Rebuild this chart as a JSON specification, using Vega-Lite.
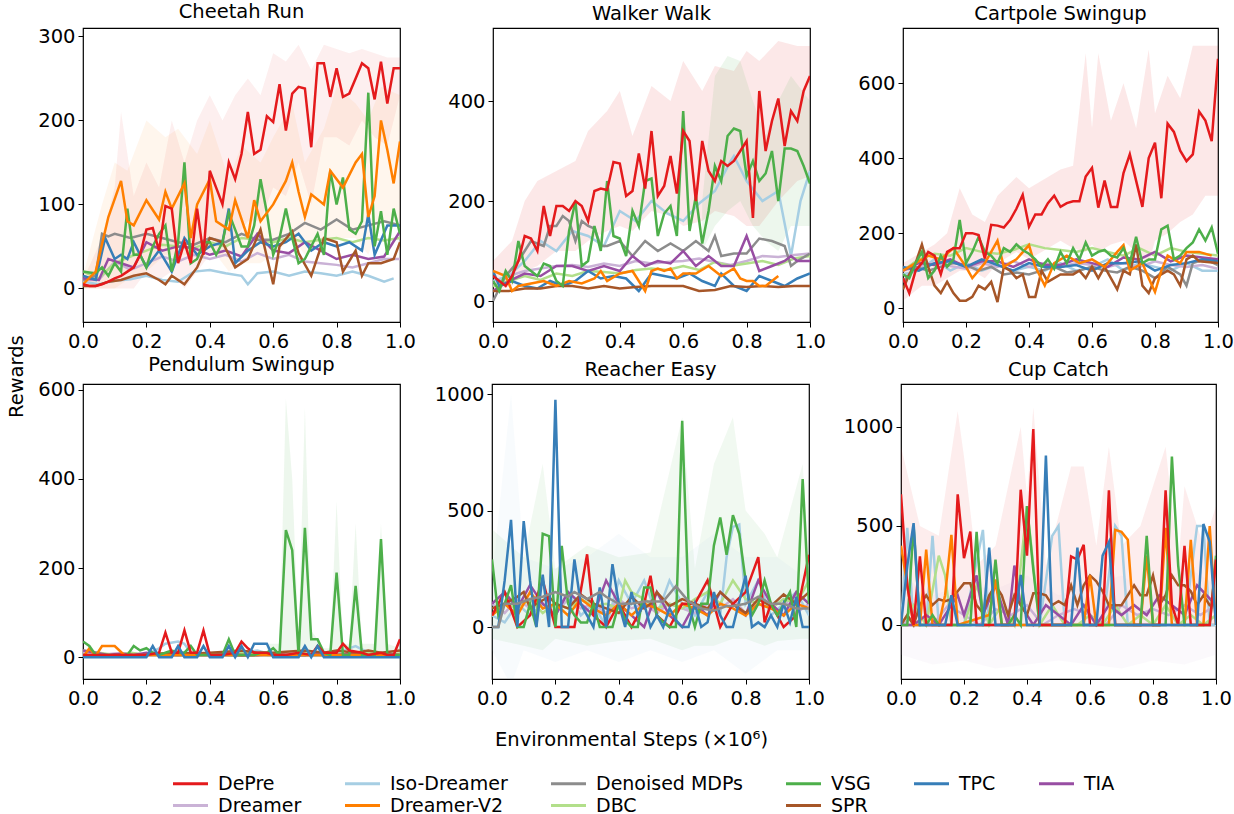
{
"$schema": "https://vega.github.io/schema/vega-lite/v6.json",
"background": "white",
"padding": {"left": 6, "top": 1, "right": 0, "bottom": 0},
"spacing": 2,
"title": {"text": "Rewards", "orient": "left", "anchor": "middle", "fontSize": 19.5, "fontWeight": "normal", "font": "DejaVu Sans", "color": "black", "offset": 10, "dx": 32},
"datasets": {
"CR": [
{"s":"Iso-Dreamer","x":0,"y":8},{"s":"Iso-Dreamer","x":0.05,"y":5},{"s":"Iso-Dreamer","x":0.1,"y":9},{"s":"Iso-Dreamer","x":0.15,"y":11},{"s":"Iso-Dreamer","x":0.2,"y":15},{"s":"Iso-Dreamer","x":0.25,"y":10},{"s":"Iso-Dreamer","x":0.3,"y":8},{"s":"Iso-Dreamer","x":0.35,"y":20},{"s":"Iso-Dreamer","x":0.4,"y":22},{"s":"Iso-Dreamer","x":0.45,"y":18},{"s":"Iso-Dreamer","x":0.5,"y":15},{"s":"Iso-Dreamer","x":0.52,"y":5},{"s":"Iso-Dreamer","x":0.55,"y":18},{"s":"Iso-Dreamer","x":0.6,"y":20},{"s":"Iso-Dreamer","x":0.65,"y":15},{"s":"Iso-Dreamer","x":0.7,"y":20},{"s":"Iso-Dreamer","x":0.75,"y":18},{"s":"Iso-Dreamer","x":0.8,"y":15},{"s":"Iso-Dreamer","x":0.85,"y":20},{"s":"Iso-Dreamer","x":0.9,"y":15},{"s":"Iso-Dreamer","x":0.95,"y":8},{"s":"Iso-Dreamer","x":0.98,"y":12},
{"s":"Dreamer","x":0,"y":10},{"s":"Dreamer","x":0.05,"y":10},{"s":"Dreamer","x":0.1,"y":32},{"s":"Dreamer","x":0.15,"y":22},{"s":"Dreamer","x":0.2,"y":30},{"s":"Dreamer","x":0.25,"y":38},{"s":"Dreamer","x":0.3,"y":32},{"s":"Dreamer","x":0.35,"y":40},{"s":"Dreamer","x":0.4,"y":35},{"s":"Dreamer","x":0.45,"y":40},{"s":"Dreamer","x":0.5,"y":32},{"s":"Dreamer","x":0.55,"y":42},{"s":"Dreamer","x":0.6,"y":35},{"s":"Dreamer","x":0.65,"y":40},{"s":"Dreamer","x":0.7,"y":32},{"s":"Dreamer","x":0.75,"y":30},{"s":"Dreamer","x":0.8,"y":28},{"s":"Dreamer","x":0.85,"y":25},{"s":"Dreamer","x":0.9,"y":30},{"s":"Dreamer","x":0.95,"y":35},{"s":"Dreamer","x":1,"y":35},
{"s":"DBC","x":0,"y":20},{"s":"DBC","x":0.05,"y":12},{"s":"DBC","x":0.1,"y":30},{"s":"DBC","x":0.15,"y":38},{"s":"DBC","x":0.2,"y":45},{"s":"DBC","x":0.25,"y":52},{"s":"DBC","x":0.3,"y":50},{"s":"DBC","x":0.35,"y":48},{"s":"DBC","x":0.4,"y":55},{"s":"DBC","x":0.45,"y":50},{"s":"DBC","x":0.5,"y":60},{"s":"DBC","x":0.55,"y":58},{"s":"DBC","x":0.6,"y":55},{"s":"DBC","x":0.65,"y":60},{"s":"DBC","x":0.7,"y":55},{"s":"DBC","x":0.75,"y":58},{"s":"DBC","x":0.8,"y":60},{"s":"DBC","x":0.85,"y":55},{"s":"DBC","x":0.9,"y":60},{"s":"DBC","x":0.95,"y":57},{"s":"DBC","x":1,"y":60},
{"s":"Denoised MDPs","x":0,"y":10},{"s":"Denoised MDPs","x":0.04,"y":15},{"s":"Denoised MDPs","x":0.06,"y":65},{"s":"Denoised MDPs","x":0.08,"y":62},{"s":"Denoised MDPs","x":0.1,"y":65},{"s":"Denoised MDPs","x":0.15,"y":60},{"s":"Denoised MDPs","x":0.2,"y":65},{"s":"Denoised MDPs","x":0.25,"y":60},{"s":"Denoised MDPs","x":0.3,"y":55},{"s":"Denoised MDPs","x":0.35,"y":52},{"s":"Denoised MDPs","x":0.4,"y":60},{"s":"Denoised MDPs","x":0.45,"y":55},{"s":"Denoised MDPs","x":0.5,"y":65},{"s":"Denoised MDPs","x":0.55,"y":58},{"s":"Denoised MDPs","x":0.6,"y":58},{"s":"Denoised MDPs","x":0.65,"y":65},{"s":"Denoised MDPs","x":0.7,"y":78},{"s":"Denoised MDPs","x":0.75,"y":70},{"s":"Denoised MDPs","x":0.8,"y":82},{"s":"Denoised MDPs","x":0.85,"y":70},{"s":"Denoised MDPs","x":0.9,"y":75},{"s":"Denoised MDPs","x":0.95,"y":80},{"s":"Denoised MDPs","x":1,"y":75},
{"s":"TIA","x":0,"y":12},{"s":"TIA","x":0.05,"y":10},{"s":"TIA","x":0.08,"y":35},{"s":"TIA","x":0.12,"y":30},{"s":"TIA","x":0.16,"y":25},{"s":"TIA","x":0.2,"y":55},{"s":"TIA","x":0.25,"y":45},{"s":"TIA","x":0.3,"y":50},{"s":"TIA","x":0.35,"y":48},{"s":"TIA","x":0.4,"y":40},{"s":"TIA","x":0.45,"y":45},{"s":"TIA","x":0.5,"y":38},{"s":"TIA","x":0.55,"y":65},{"s":"TIA","x":0.6,"y":45},{"s":"TIA","x":0.65,"y":42},{"s":"TIA","x":0.7,"y":55},{"s":"TIA","x":0.75,"y":45},{"s":"TIA","x":0.8,"y":35},{"s":"TIA","x":0.85,"y":40},{"s":"TIA","x":0.9,"y":35},{"s":"TIA","x":0.95,"y":38},{"s":"TIA","x":1,"y":68},
{"s":"TPC","x":0,"y":15},{"s":"TPC","x":0.04,"y":10},{"s":"TPC","x":0.07,"y":60},{"s":"TPC","x":0.1,"y":35},{"s":"TPC","x":0.12,"y":40},{"s":"TPC","x":0.14,"y":35},{"s":"TPC","x":0.16,"y":55},{"s":"TPC","x":0.2,"y":25},{"s":"TPC","x":0.24,"y":45},{"s":"TPC","x":0.28,"y":20},{"s":"TPC","x":0.32,"y":60},{"s":"TPC","x":0.36,"y":40},{"s":"TPC","x":0.4,"y":50},{"s":"TPC","x":0.44,"y":55},{"s":"TPC","x":0.46,"y":95},{"s":"TPC","x":0.48,"y":30},{"s":"TPC","x":0.52,"y":45},{"s":"TPC","x":0.56,"y":55},{"s":"TPC","x":0.6,"y":50},{"s":"TPC","x":0.64,"y":55},{"s":"TPC","x":0.68,"y":65},{"s":"TPC","x":0.72,"y":45},{"s":"TPC","x":0.76,"y":55},{"s":"TPC","x":0.8,"y":50},{"s":"TPC","x":0.84,"y":55},{"s":"TPC","x":0.88,"y":45},{"s":"TPC","x":0.9,"y":88},{"s":"TPC","x":0.92,"y":40},{"s":"TPC","x":0.96,"y":75},{"s":"TPC","x":1,"y":75},
{"s":"SPR","x":0,"y":3},{"s":"SPR","x":0.04,"y":3},{"s":"SPR","x":0.08,"y":8},{"s":"SPR","x":0.12,"y":10},{"s":"SPR","x":0.16,"y":15},{"s":"SPR","x":0.2,"y":18},{"s":"SPR","x":0.24,"y":10},{"s":"SPR","x":0.26,"y":5},{"s":"SPR","x":0.28,"y":15},{"s":"SPR","x":0.32,"y":5},{"s":"SPR","x":0.36,"y":25},{"s":"SPR","x":0.4,"y":60},{"s":"SPR","x":0.44,"y":55},{"s":"SPR","x":0.48,"y":25},{"s":"SPR","x":0.52,"y":35},{"s":"SPR","x":0.56,"y":70},{"s":"SPR","x":0.6,"y":5},{"s":"SPR","x":0.62,"y":50},{"s":"SPR","x":0.66,"y":68},{"s":"SPR","x":0.68,"y":42},{"s":"SPR","x":0.72,"y":15},{"s":"SPR","x":0.76,"y":60},{"s":"SPR","x":0.8,"y":55},{"s":"SPR","x":0.82,"y":20},{"s":"SPR","x":0.86,"y":45},{"s":"SPR","x":0.88,"y":15},{"s":"SPR","x":0.9,"y":30},{"s":"SPR","x":0.94,"y":30},{"s":"SPR","x":0.98,"y":35},{"s":"SPR","x":1,"y":55},
{"s":"VSG","x":0,"y":20},{"s":"VSG","x":0.02,"y":19},{"s":"VSG","x":0.04,"y":18},{"s":"VSG","x":0.06,"y":25},{"s":"VSG","x":0.08,"y":15},{"s":"VSG","x":0.1,"y":30},{"s":"VSG","x":0.12,"y":20},{"s":"VSG","x":0.14,"y":95},{"s":"VSG","x":0.16,"y":40},{"s":"VSG","x":0.18,"y":40},{"s":"VSG","x":0.2,"y":25},{"s":"VSG","x":0.22,"y":50},{"s":"VSG","x":0.24,"y":65},{"s":"VSG","x":0.26,"y":75},{"s":"VSG","x":0.28,"y":20},{"s":"VSG","x":0.3,"y":55},{"s":"VSG","x":0.32,"y":150},{"s":"VSG","x":0.34,"y":30},{"s":"VSG","x":0.36,"y":35},{"s":"VSG","x":0.38,"y":55},{"s":"VSG","x":0.4,"y":55},{"s":"VSG","x":0.42,"y":40},{"s":"VSG","x":0.44,"y":55},{"s":"VSG","x":0.46,"y":90},{"s":"VSG","x":0.48,"y":70},{"s":"VSG","x":0.5,"y":50},{"s":"VSG","x":0.52,"y":50},{"s":"VSG","x":0.54,"y":75},{"s":"VSG","x":0.56,"y":130},{"s":"VSG","x":0.58,"y":90},{"s":"VSG","x":0.6,"y":40},{"s":"VSG","x":0.62,"y":60},{"s":"VSG","x":0.64,"y":95},{"s":"VSG","x":0.66,"y":60},{"s":"VSG","x":0.68,"y":30},{"s":"VSG","x":0.7,"y":35},{"s":"VSG","x":0.72,"y":50},{"s":"VSG","x":0.74,"y":65},{"s":"VSG","x":0.76,"y":40},{"s":"VSG","x":0.78,"y":140},{"s":"VSG","x":0.8,"y":100},{"s":"VSG","x":0.82,"y":132},{"s":"VSG","x":0.84,"y":70},{"s":"VSG","x":0.86,"y":65},{"s":"VSG","x":0.88,"y":80},{"s":"VSG","x":0.9,"y":233},{"s":"VSG","x":0.92,"y":50},{"s":"VSG","x":0.94,"y":92},{"s":"VSG","x":0.96,"y":40},{"s":"VSG","x":0.98,"y":95},{"s":"VSG","x":1,"y":65},
{"s":"Dreamer-V2","x":0,"y":5},{"s":"Dreamer-V2","x":0.04,"y":20},{"s":"Dreamer-V2","x":0.08,"y":85},{"s":"Dreamer-V2","x":0.12,"y":128},{"s":"Dreamer-V2","x":0.14,"y":80},{"s":"Dreamer-V2","x":0.16,"y":75},{"s":"Dreamer-V2","x":0.2,"y":105},{"s":"Dreamer-V2","x":0.24,"y":82},{"s":"Dreamer-V2","x":0.26,"y":115},{"s":"Dreamer-V2","x":0.28,"y":95},{"s":"Dreamer-V2","x":0.32,"y":125},{"s":"Dreamer-V2","x":0.34,"y":60},{"s":"Dreamer-V2","x":0.36,"y":100},{"s":"Dreamer-V2","x":0.4,"y":130},{"s":"Dreamer-V2","x":0.42,"y":80},{"s":"Dreamer-V2","x":0.46,"y":70},{"s":"Dreamer-V2","x":0.48,"y":105},{"s":"Dreamer-V2","x":0.52,"y":60},{"s":"Dreamer-V2","x":0.54,"y":105},{"s":"Dreamer-V2","x":0.56,"y":80},{"s":"Dreamer-V2","x":0.6,"y":100},{"s":"Dreamer-V2","x":0.64,"y":128},{"s":"Dreamer-V2","x":0.66,"y":150},{"s":"Dreamer-V2","x":0.68,"y":115},{"s":"Dreamer-V2","x":0.7,"y":85},{"s":"Dreamer-V2","x":0.72,"y":112},{"s":"Dreamer-V2","x":0.76,"y":100},{"s":"Dreamer-V2","x":0.78,"y":140},{"s":"Dreamer-V2","x":0.82,"y":120},{"s":"Dreamer-V2","x":0.86,"y":150},{"s":"Dreamer-V2","x":0.88,"y":160},{"s":"Dreamer-V2","x":0.9,"y":85},{"s":"Dreamer-V2","x":0.92,"y":110},{"s":"Dreamer-V2","x":0.94,"y":200},{"s":"Dreamer-V2","x":0.96,"y":165},{"s":"Dreamer-V2","x":0.98,"y":125},{"s":"Dreamer-V2","x":1,"y":175},
{"s":"DePre","x":0,"y":5},{"s":"DePre","x":0.02,"y":3},{"s":"DePre","x":0.04,"y":3},{"s":"DePre","x":0.06,"y":5},{"s":"DePre","x":0.08,"y":8},{"s":"DePre","x":0.1,"y":12},{"s":"DePre","x":0.12,"y":15},{"s":"DePre","x":0.14,"y":20},{"s":"DePre","x":0.16,"y":25},{"s":"DePre","x":0.18,"y":40},{"s":"DePre","x":0.2,"y":70},{"s":"DePre","x":0.22,"y":72},{"s":"DePre","x":0.24,"y":45},{"s":"DePre","x":0.26,"y":98},{"s":"DePre","x":0.28,"y":95},{"s":"DePre","x":0.3,"y":30},{"s":"DePre","x":0.32,"y":55},{"s":"DePre","x":0.34,"y":30},{"s":"DePre","x":0.36,"y":95},{"s":"DePre","x":0.38,"y":40},{"s":"DePre","x":0.4,"y":140},{"s":"DePre","x":0.42,"y":120},{"s":"DePre","x":0.44,"y":100},{"s":"DePre","x":0.46,"y":150},{"s":"DePre","x":0.48,"y":130},{"s":"DePre","x":0.5,"y":160},{"s":"DePre","x":0.52,"y":210},{"s":"DePre","x":0.54,"y":160},{"s":"DePre","x":0.56,"y":165},{"s":"DePre","x":0.58,"y":205},{"s":"DePre","x":0.6,"y":198},{"s":"DePre","x":0.62,"y":243},{"s":"DePre","x":0.64,"y":188},{"s":"DePre","x":0.66,"y":232},{"s":"DePre","x":0.68,"y":240},{"s":"DePre","x":0.7,"y":238},{"s":"DePre","x":0.72,"y":168},{"s":"DePre","x":0.74,"y":268},{"s":"DePre","x":0.76,"y":268},{"s":"DePre","x":0.78,"y":228},{"s":"DePre","x":0.8,"y":262},{"s":"DePre","x":0.82,"y":228},{"s":"DePre","x":0.84,"y":232},{"s":"DePre","x":0.86,"y":250},{"s":"DePre","x":0.88,"y":268},{"s":"DePre","x":0.9,"y":262},{"s":"DePre","x":0.92,"y":225},{"s":"DePre","x":0.94,"y":270},{"s":"DePre","x":0.96,"y":220},{"s":"DePre","x":0.98,"y":262},{"s":"DePre","x":1,"y":262}
],
"CRb": [
{"s":"DePre","x":0,"l":0,"h":10},{"s":"DePre","x":0.06,"l":0,"h":60},{"s":"DePre","x":0.1,"l":0,"h":120},{"s":"DePre","x":0.12,"l":0,"h":210},{"s":"DePre","x":0.16,"l":0,"h":110},{"s":"DePre","x":0.2,"l":20,"h":150},{"s":"DePre","x":0.24,"l":10,"h":120},{"s":"DePre","x":0.28,"l":20,"h":200},{"s":"DePre","x":0.32,"l":0,"h":150},{"s":"DePre","x":0.36,"l":20,"h":200},{"s":"DePre","x":0.4,"l":40,"h":230},{"s":"DePre","x":0.44,"l":40,"h":200},{"s":"DePre","x":0.48,"l":60,"h":230},{"s":"DePre","x":0.52,"l":80,"h":250},{"s":"DePre","x":0.56,"l":80,"h":230},{"s":"DePre","x":0.6,"l":120,"h":280},{"s":"DePre","x":0.64,"l":110,"h":270},{"s":"DePre","x":0.68,"l":150,"h":290},{"s":"DePre","x":0.72,"l":100,"h":260},{"s":"DePre","x":0.76,"l":180,"h":290},{"s":"DePre","x":0.8,"l":180,"h":285},{"s":"DePre","x":0.84,"l":170,"h":280},{"s":"DePre","x":0.88,"l":200,"h":285},{"s":"DePre","x":0.92,"l":180,"h":280},{"s":"DePre","x":0.96,"l":170,"h":275},{"s":"DePre","x":1,"l":230,"h":275},
{"s":"Dreamer-V2","x":0,"l":0,"h":15},{"s":"Dreamer-V2","x":0.06,"l":0,"h":100},{"s":"Dreamer-V2","x":0.1,"l":0,"h":150},{"s":"Dreamer-V2","x":0.14,"l":10,"h":140},{"s":"Dreamer-V2","x":0.2,"l":20,"h":200},{"s":"Dreamer-V2","x":0.26,"l":40,"h":180},{"s":"Dreamer-V2","x":0.3,"l":40,"h":190},{"s":"Dreamer-V2","x":0.36,"l":40,"h":160},{"s":"Dreamer-V2","x":0.4,"l":50,"h":200},{"s":"Dreamer-V2","x":0.46,"l":20,"h":130},{"s":"Dreamer-V2","x":0.5,"l":30,"h":170},{"s":"Dreamer-V2","x":0.56,"l":30,"h":150},{"s":"Dreamer-V2","x":0.6,"l":40,"h":180},{"s":"Dreamer-V2","x":0.66,"l":60,"h":220},{"s":"Dreamer-V2","x":0.7,"l":40,"h":150},{"s":"Dreamer-V2","x":0.76,"l":50,"h":190},{"s":"Dreamer-V2","x":0.8,"l":60,"h":240},{"s":"Dreamer-V2","x":0.86,"l":60,"h":220},{"s":"Dreamer-V2","x":0.9,"l":40,"h":200},{"s":"Dreamer-V2","x":0.94,"l":80,"h":240},{"s":"Dreamer-V2","x":1,"l":80,"h":230}
],
"WW": [
{"s":"Iso-Dreamer","x":0,"y":40},{"s":"Iso-Dreamer","x":0.05,"y":50},{"s":"Iso-Dreamer","x":0.1,"y":80},{"s":"Iso-Dreamer","x":0.15,"y":120},{"s":"Iso-Dreamer","x":0.2,"y":100},{"s":"Iso-Dreamer","x":0.25,"y":140},{"s":"Iso-Dreamer","x":0.3,"y":130},{"s":"Iso-Dreamer","x":0.35,"y":110},{"s":"Iso-Dreamer","x":0.4,"y":180},{"s":"Iso-Dreamer","x":0.45,"y":160},{"s":"Iso-Dreamer","x":0.5,"y":200},{"s":"Iso-Dreamer","x":0.55,"y":175},{"s":"Iso-Dreamer","x":0.6,"y":160},{"s":"Iso-Dreamer","x":0.65,"y":195},{"s":"Iso-Dreamer","x":0.7,"y":220},{"s":"Iso-Dreamer","x":0.75,"y":280},{"s":"Iso-Dreamer","x":0.76,"y":290},{"s":"Iso-Dreamer","x":0.8,"y":240},{"s":"Iso-Dreamer","x":0.85,"y":200},{"s":"Iso-Dreamer","x":0.9,"y":220},{"s":"Iso-Dreamer","x":0.94,"y":90},{"s":"Iso-Dreamer","x":0.97,"y":200},{"s":"Iso-Dreamer","x":1,"y":260},
{"s":"Dreamer","x":0,"y":30},{"s":"Dreamer","x":0.05,"y":50},{"s":"Dreamer","x":0.1,"y":60},{"s":"Dreamer","x":0.15,"y":65},{"s":"Dreamer","x":0.2,"y":70},{"s":"Dreamer","x":0.25,"y":72},{"s":"Dreamer","x":0.3,"y":68},{"s":"Dreamer","x":0.35,"y":75},{"s":"Dreamer","x":0.4,"y":70},{"s":"Dreamer","x":0.45,"y":80},{"s":"Dreamer","x":0.5,"y":75},{"s":"Dreamer","x":0.55,"y":78},{"s":"Dreamer","x":0.6,"y":80},{"s":"Dreamer","x":0.65,"y":85},{"s":"Dreamer","x":0.7,"y":78},{"s":"Dreamer","x":0.75,"y":72},{"s":"Dreamer","x":0.8,"y":80},{"s":"Dreamer","x":0.85,"y":90},{"s":"Dreamer","x":0.9,"y":88},{"s":"Dreamer","x":0.95,"y":92},{"s":"Dreamer","x":1,"y":95},
{"s":"DBC","x":0,"y":30},{"s":"DBC","x":0.05,"y":40},{"s":"DBC","x":0.1,"y":50},{"s":"DBC","x":0.15,"y":42},{"s":"DBC","x":0.2,"y":55},{"s":"DBC","x":0.25,"y":50},{"s":"DBC","x":0.3,"y":60},{"s":"DBC","x":0.35,"y":58},{"s":"DBC","x":0.4,"y":55},{"s":"DBC","x":0.45,"y":62},{"s":"DBC","x":0.5,"y":65},{"s":"DBC","x":0.55,"y":62},{"s":"DBC","x":0.6,"y":70},{"s":"DBC","x":0.65,"y":62},{"s":"DBC","x":0.7,"y":78},{"s":"DBC","x":0.75,"y":70},{"s":"DBC","x":0.8,"y":75},{"s":"DBC","x":0.85,"y":80},{"s":"DBC","x":0.9,"y":72},{"s":"DBC","x":0.95,"y":85},{"s":"DBC","x":1,"y":90},
{"s":"Denoised MDPs","x":0,"y":0},{"s":"Denoised MDPs","x":0.04,"y":50},{"s":"Denoised MDPs","x":0.08,"y":80},{"s":"Denoised MDPs","x":0.1,"y":100},{"s":"Denoised MDPs","x":0.12,"y":120},{"s":"Denoised MDPs","x":0.16,"y":110},{"s":"Denoised MDPs","x":0.18,"y":150},{"s":"Denoised MDPs","x":0.2,"y":150},{"s":"Denoised MDPs","x":0.22,"y":170},{"s":"Denoised MDPs","x":0.24,"y":160},{"s":"Denoised MDPs","x":0.26,"y":120},{"s":"Denoised MDPs","x":0.28,"y":160},{"s":"Denoised MDPs","x":0.3,"y":150},{"s":"Denoised MDPs","x":0.32,"y":145},{"s":"Denoised MDPs","x":0.34,"y":110},{"s":"Denoised MDPs","x":0.36,"y":110},{"s":"Denoised MDPs","x":0.4,"y":120},{"s":"Denoised MDPs","x":0.44,"y":90},{"s":"Denoised MDPs","x":0.48,"y":120},{"s":"Denoised MDPs","x":0.52,"y":100},{"s":"Denoised MDPs","x":0.56,"y":115},{"s":"Denoised MDPs","x":0.6,"y":100},{"s":"Denoised MDPs","x":0.64,"y":120},{"s":"Denoised MDPs","x":0.68,"y":100},{"s":"Denoised MDPs","x":0.7,"y":130},{"s":"Denoised MDPs","x":0.72,"y":90},{"s":"Denoised MDPs","x":0.76,"y":95},{"s":"Denoised MDPs","x":0.8,"y":95},{"s":"Denoised MDPs","x":0.84,"y":125},{"s":"Denoised MDPs","x":0.88,"y":120},{"s":"Denoised MDPs","x":0.92,"y":110},{"s":"Denoised MDPs","x":0.94,"y":70},{"s":"Denoised MDPs","x":0.96,"y":80},{"s":"Denoised MDPs","x":1,"y":95},
{"s":"TIA","x":0,"y":20},{"s":"TIA","x":0.05,"y":40},{"s":"TIA","x":0.1,"y":55},{"s":"TIA","x":0.15,"y":50},{"s":"TIA","x":0.2,"y":70},{"s":"TIA","x":0.25,"y":70},{"s":"TIA","x":0.3,"y":60},{"s":"TIA","x":0.35,"y":70},{"s":"TIA","x":0.4,"y":60},{"s":"TIA","x":0.44,"y":90},{"s":"TIA","x":0.48,"y":70},{"s":"TIA","x":0.52,"y":80},{"s":"TIA","x":0.56,"y":75},{"s":"TIA","x":0.6,"y":100},{"s":"TIA","x":0.64,"y":70},{"s":"TIA","x":0.68,"y":90},{"s":"TIA","x":0.72,"y":70},{"s":"TIA","x":0.76,"y":70},{"s":"TIA","x":0.8,"y":130},{"s":"TIA","x":0.84,"y":60},{"s":"TIA","x":0.88,"y":70},{"s":"TIA","x":0.92,"y":80},{"s":"TIA","x":0.94,"y":90},{"s":"TIA","x":0.96,"y":80},{"s":"TIA","x":1,"y":80},
{"s":"TPC","x":0,"y":60},{"s":"TPC","x":0.02,"y":30},{"s":"TPC","x":0.06,"y":40},{"s":"TPC","x":0.1,"y":30},{"s":"TPC","x":0.14,"y":25},{"s":"TPC","x":0.18,"y":40},{"s":"TPC","x":0.22,"y":30},{"s":"TPC","x":0.26,"y":40},{"s":"TPC","x":0.3,"y":60},{"s":"TPC","x":0.34,"y":45},{"s":"TPC","x":0.38,"y":50},{"s":"TPC","x":0.42,"y":45},{"s":"TPC","x":0.46,"y":20},{"s":"TPC","x":0.5,"y":55},{"s":"TPC","x":0.54,"y":50},{"s":"TPC","x":0.58,"y":45},{"s":"TPC","x":0.62,"y":55},{"s":"TPC","x":0.66,"y":40},{"s":"TPC","x":0.7,"y":30},{"s":"TPC","x":0.72,"y":55},{"s":"TPC","x":0.76,"y":30},{"s":"TPC","x":0.8,"y":20},{"s":"TPC","x":0.84,"y":50},{"s":"TPC","x":0.88,"y":40},{"s":"TPC","x":0.92,"y":30},{"s":"TPC","x":0.96,"y":45},{"s":"TPC","x":1,"y":55},
{"s":"SPR","x":0,"y":20},{"s":"SPR","x":0.05,"y":20},{"s":"SPR","x":0.1,"y":25},{"s":"SPR","x":0.15,"y":25},{"s":"SPR","x":0.2,"y":30},{"s":"SPR","x":0.25,"y":30},{"s":"SPR","x":0.3,"y":25},{"s":"SPR","x":0.35,"y":30},{"s":"SPR","x":0.4,"y":25},{"s":"SPR","x":0.45,"y":28},{"s":"SPR","x":0.5,"y":30},{"s":"SPR","x":0.55,"y":30},{"s":"SPR","x":0.6,"y":30},{"s":"SPR","x":0.65,"y":20},{"s":"SPR","x":0.7,"y":22},{"s":"SPR","x":0.75,"y":30},{"s":"SPR","x":0.8,"y":28},{"s":"SPR","x":0.85,"y":30},{"s":"SPR","x":0.9,"y":28},{"s":"SPR","x":0.95,"y":30},{"s":"SPR","x":1,"y":30},
{"s":"Dreamer-V2","x":0,"y":60},{"s":"Dreamer-V2","x":0.04,"y":50},{"s":"Dreamer-V2","x":0.06,"y":20},{"s":"Dreamer-V2","x":0.08,"y":30},{"s":"Dreamer-V2","x":0.12,"y":35},{"s":"Dreamer-V2","x":0.16,"y":40},{"s":"Dreamer-V2","x":0.2,"y":30},{"s":"Dreamer-V2","x":0.24,"y":40},{"s":"Dreamer-V2","x":0.28,"y":35},{"s":"Dreamer-V2","x":0.32,"y":45},{"s":"Dreamer-V2","x":0.34,"y":60},{"s":"Dreamer-V2","x":0.36,"y":40},{"s":"Dreamer-V2","x":0.4,"y":55},{"s":"Dreamer-V2","x":0.44,"y":60},{"s":"Dreamer-V2","x":0.46,"y":40},{"s":"Dreamer-V2","x":0.48,"y":20},{"s":"Dreamer-V2","x":0.5,"y":60},{"s":"Dreamer-V2","x":0.52,"y":65},{"s":"Dreamer-V2","x":0.54,"y":60},{"s":"Dreamer-V2","x":0.56,"y":65},{"s":"Dreamer-V2","x":0.58,"y":45},{"s":"Dreamer-V2","x":0.6,"y":55},{"s":"Dreamer-V2","x":0.64,"y":55},{"s":"Dreamer-V2","x":0.68,"y":70},{"s":"Dreamer-V2","x":0.7,"y":60},{"s":"Dreamer-V2","x":0.72,"y":50},{"s":"Dreamer-V2","x":0.76,"y":65},{"s":"Dreamer-V2","x":0.78,"y":45},{"s":"Dreamer-V2","x":0.8,"y":40},{"s":"Dreamer-V2","x":0.82,"y":40},{"s":"Dreamer-V2","x":0.84,"y":30},{"s":"Dreamer-V2","x":0.86,"y":30},{"s":"Dreamer-V2","x":0.9,"y":50},
{"s":"VSG","x":0,"y":40},{"s":"VSG","x":0.02,"y":20},{"s":"VSG","x":0.04,"y":60},{"s":"VSG","x":0.06,"y":40},{"s":"VSG","x":0.08,"y":120},{"s":"VSG","x":0.1,"y":70},{"s":"VSG","x":0.12,"y":60},{"s":"VSG","x":0.14,"y":50},{"s":"VSG","x":0.16,"y":75},{"s":"VSG","x":0.18,"y":70},{"s":"VSG","x":0.2,"y":40},{"s":"VSG","x":0.22,"y":30},{"s":"VSG","x":0.24,"y":140},{"s":"VSG","x":0.26,"y":200},{"s":"VSG","x":0.28,"y":70},{"s":"VSG","x":0.3,"y":80},{"s":"VSG","x":0.32,"y":150},{"s":"VSG","x":0.34,"y":100},{"s":"VSG","x":0.36,"y":240},{"s":"VSG","x":0.38,"y":130},{"s":"VSG","x":0.4,"y":125},{"s":"VSG","x":0.42,"y":90},{"s":"VSG","x":0.44,"y":180},{"s":"VSG","x":0.46,"y":150},{"s":"VSG","x":0.48,"y":240},{"s":"VSG","x":0.5,"y":245},{"s":"VSG","x":0.52,"y":130},{"s":"VSG","x":0.54,"y":175},{"s":"VSG","x":0.56,"y":190},{"s":"VSG","x":0.58,"y":130},{"s":"VSG","x":0.6,"y":380},{"s":"VSG","x":0.62,"y":140},{"s":"VSG","x":0.64,"y":210},{"s":"VSG","x":0.66,"y":115},{"s":"VSG","x":0.68,"y":180},{"s":"VSG","x":0.7,"y":270},{"s":"VSG","x":0.72,"y":240},{"s":"VSG","x":0.74,"y":330},{"s":"VSG","x":0.76,"y":345},{"s":"VSG","x":0.78,"y":340},{"s":"VSG","x":0.8,"y":250},{"s":"VSG","x":0.82,"y":280},{"s":"VSG","x":0.84,"y":240},{"s":"VSG","x":0.86,"y":255},{"s":"VSG","x":0.88,"y":300},{"s":"VSG","x":0.9,"y":200},{"s":"VSG","x":0.92,"y":305},{"s":"VSG","x":0.94,"y":305},{"s":"VSG","x":0.96,"y":300},{"s":"VSG","x":0.98,"y":270},{"s":"VSG","x":1,"y":235},
{"s":"DePre","x":0,"y":50},{"s":"DePre","x":0.02,"y":40},{"s":"DePre","x":0.04,"y":30},{"s":"DePre","x":0.06,"y":50},{"s":"DePre","x":0.08,"y":80},{"s":"DePre","x":0.1,"y":130},{"s":"DePre","x":0.12,"y":125},{"s":"DePre","x":0.14,"y":100},{"s":"DePre","x":0.16,"y":190},{"s":"DePre","x":0.18,"y":130},{"s":"DePre","x":0.2,"y":190},{"s":"DePre","x":0.22,"y":190},{"s":"DePre","x":0.24,"y":180},{"s":"DePre","x":0.26,"y":200},{"s":"DePre","x":0.28,"y":190},{"s":"DePre","x":0.3,"y":160},{"s":"DePre","x":0.32,"y":220},{"s":"DePre","x":0.34,"y":225},{"s":"DePre","x":0.36,"y":222},{"s":"DePre","x":0.38,"y":278},{"s":"DePre","x":0.4,"y":275},{"s":"DePre","x":0.42,"y":210},{"s":"DePre","x":0.44,"y":220},{"s":"DePre","x":0.46,"y":295},{"s":"DePre","x":0.48,"y":225},{"s":"DePre","x":0.5,"y":340},{"s":"DePre","x":0.52,"y":210},{"s":"DePre","x":0.54,"y":230},{"s":"DePre","x":0.56,"y":290},{"s":"DePre","x":0.58,"y":215},{"s":"DePre","x":0.6,"y":340},{"s":"DePre","x":0.62,"y":320},{"s":"DePre","x":0.64,"y":200},{"s":"DePre","x":0.66,"y":320},{"s":"DePre","x":0.68,"y":260},{"s":"DePre","x":0.7,"y":240},{"s":"DePre","x":0.72,"y":280},{"s":"DePre","x":0.74,"y":270},{"s":"DePre","x":0.76,"y":280},{"s":"DePre","x":0.78,"y":300},{"s":"DePre","x":0.8,"y":320},{"s":"DePre","x":0.82,"y":166},{"s":"DePre","x":0.84,"y":420},{"s":"DePre","x":0.86,"y":300},{"s":"DePre","x":0.88,"y":360},{"s":"DePre","x":0.9,"y":405},{"s":"DePre","x":0.92,"y":310},{"s":"DePre","x":0.94,"y":380},{"s":"DePre","x":0.96,"y":360},{"s":"DePre","x":0.98,"y":420},{"s":"DePre","x":1,"y":450}
],
"WWb": [
{"s":"DePre","x":0,"l":20,"h":80},{"s":"DePre","x":0.06,"l":30,"h":120},{"s":"DePre","x":0.1,"l":60,"h":200},{"s":"DePre","x":0.14,"l":70,"h":240},{"s":"DePre","x":0.2,"l":100,"h":260},{"s":"DePre","x":0.26,"l":100,"h":280},{"s":"DePre","x":0.3,"l":120,"h":340},{"s":"DePre","x":0.36,"l":140,"h":380},{"s":"DePre","x":0.4,"l":150,"h":420},{"s":"DePre","x":0.44,"l":140,"h":330},{"s":"DePre","x":0.5,"l":180,"h":430},{"s":"DePre","x":0.56,"l":170,"h":400},{"s":"DePre","x":0.6,"l":150,"h":480},{"s":"DePre","x":0.66,"l":160,"h":420},{"s":"DePre","x":0.7,"l":180,"h":470},{"s":"DePre","x":0.76,"l":170,"h":460},{"s":"DePre","x":0.8,"l":150,"h":500},{"s":"DePre","x":0.84,"l":150,"h":480},{"s":"DePre","x":0.9,"l":200,"h":520},{"s":"DePre","x":0.96,"l":240,"h":510},{"s":"DePre","x":1,"l":250,"h":510},
{"s":"VSG","x":0.66,"l":100,"h":200},{"s":"VSG","x":0.7,"l":150,"h":450},{"s":"VSG","x":0.74,"l":180,"h":490},{"s":"VSG","x":0.78,"l":200,"h":480},{"s":"VSG","x":0.82,"l":150,"h":400},{"s":"VSG","x":0.86,"l":120,"h":330},{"s":"VSG","x":0.9,"l":100,"h":400},{"s":"VSG","x":0.94,"l":150,"h":450},{"s":"VSG","x":1,"l":150,"h":400}
],
"CS": [
{"s":"Iso-Dreamer","x":0,"y":90},{"s":"Iso-Dreamer","x":0.05,"y":100},{"s":"Iso-Dreamer","x":0.1,"y":130},{"s":"Iso-Dreamer","x":0.15,"y":100},{"s":"Iso-Dreamer","x":0.2,"y":120},{"s":"Iso-Dreamer","x":0.25,"y":100},{"s":"Iso-Dreamer","x":0.3,"y":115},{"s":"Iso-Dreamer","x":0.35,"y":100},{"s":"Iso-Dreamer","x":0.4,"y":110},{"s":"Iso-Dreamer","x":0.45,"y":100},{"s":"Iso-Dreamer","x":0.5,"y":120},{"s":"Iso-Dreamer","x":0.55,"y":100},{"s":"Iso-Dreamer","x":0.6,"y":110},{"s":"Iso-Dreamer","x":0.65,"y":130},{"s":"Iso-Dreamer","x":0.7,"y":100},{"s":"Iso-Dreamer","x":0.75,"y":120},{"s":"Iso-Dreamer","x":0.8,"y":110},{"s":"Iso-Dreamer","x":0.85,"y":100},{"s":"Iso-Dreamer","x":0.9,"y":120},{"s":"Iso-Dreamer","x":0.95,"y":100},{"s":"Iso-Dreamer","x":1,"y":100},
{"s":"Dreamer","x":0,"y":100},{"s":"Dreamer","x":0.05,"y":110},{"s":"Dreamer","x":0.1,"y":120},{"s":"Dreamer","x":0.15,"y":112},{"s":"Dreamer","x":0.2,"y":105},{"s":"Dreamer","x":0.25,"y":120},{"s":"Dreamer","x":0.3,"y":110},{"s":"Dreamer","x":0.35,"y":125},{"s":"Dreamer","x":0.4,"y":110},{"s":"Dreamer","x":0.45,"y":120},{"s":"Dreamer","x":0.5,"y":110},{"s":"Dreamer","x":0.55,"y":120},{"s":"Dreamer","x":0.6,"y":115},{"s":"Dreamer","x":0.65,"y":110},{"s":"Dreamer","x":0.7,"y":120},{"s":"Dreamer","x":0.75,"y":110},{"s":"Dreamer","x":0.8,"y":125},{"s":"Dreamer","x":0.85,"y":115},{"s":"Dreamer","x":0.9,"y":110},{"s":"Dreamer","x":0.95,"y":115},{"s":"Dreamer","x":1,"y":105},
{"s":"DBC","x":0,"y":100},{"s":"DBC","x":0.05,"y":130},{"s":"DBC","x":0.1,"y":145},{"s":"DBC","x":0.15,"y":140},{"s":"DBC","x":0.2,"y":160},{"s":"DBC","x":0.25,"y":150},{"s":"DBC","x":0.3,"y":145},{"s":"DBC","x":0.35,"y":155},{"s":"DBC","x":0.4,"y":170},{"s":"DBC","x":0.45,"y":160},{"s":"DBC","x":0.5,"y":155},{"s":"DBC","x":0.55,"y":150},{"s":"DBC","x":0.6,"y":160},{"s":"DBC","x":0.65,"y":150},{"s":"DBC","x":0.7,"y":140},{"s":"DBC","x":0.75,"y":160},{"s":"DBC","x":0.8,"y":140},{"s":"DBC","x":0.85,"y":160},{"s":"DBC","x":0.9,"y":150},{"s":"DBC","x":0.95,"y":145},{"s":"DBC","x":1,"y":140},
{"s":"Denoised MDPs","x":0,"y":70},{"s":"Denoised MDPs","x":0.04,"y":110},{"s":"Denoised MDPs","x":0.08,"y":100},{"s":"Denoised MDPs","x":0.12,"y":110},{"s":"Denoised MDPs","x":0.16,"y":120},{"s":"Denoised MDPs","x":0.2,"y":115},{"s":"Denoised MDPs","x":0.24,"y":100},{"s":"Denoised MDPs","x":0.28,"y":110},{"s":"Denoised MDPs","x":0.32,"y":90},{"s":"Denoised MDPs","x":0.36,"y":95},{"s":"Denoised MDPs","x":0.4,"y":90},{"s":"Denoised MDPs","x":0.44,"y":100},{"s":"Denoised MDPs","x":0.48,"y":110},{"s":"Denoised MDPs","x":0.52,"y":95},{"s":"Denoised MDPs","x":0.56,"y":100},{"s":"Denoised MDPs","x":0.6,"y":110},{"s":"Denoised MDPs","x":0.64,"y":100},{"s":"Denoised MDPs","x":0.68,"y":95},{"s":"Denoised MDPs","x":0.72,"y":110},{"s":"Denoised MDPs","x":0.76,"y":100},{"s":"Denoised MDPs","x":0.8,"y":80},{"s":"Denoised MDPs","x":0.84,"y":110},{"s":"Denoised MDPs","x":0.88,"y":90},{"s":"Denoised MDPs","x":0.9,"y":60},{"s":"Denoised MDPs","x":0.92,"y":120},{"s":"Denoised MDPs","x":0.96,"y":130},{"s":"Denoised MDPs","x":1,"y":115},
{"s":"TIA","x":0,"y":100},{"s":"TIA","x":0.05,"y":120},{"s":"TIA","x":0.1,"y":115},{"s":"TIA","x":0.15,"y":130},{"s":"TIA","x":0.2,"y":110},{"s":"TIA","x":0.25,"y":125},{"s":"TIA","x":0.3,"y":125},{"s":"TIA","x":0.35,"y":110},{"s":"TIA","x":0.4,"y":130},{"s":"TIA","x":0.45,"y":115},{"s":"TIA","x":0.5,"y":115},{"s":"TIA","x":0.55,"y":130},{"s":"TIA","x":0.6,"y":120},{"s":"TIA","x":0.65,"y":110},{"s":"TIA","x":0.7,"y":135},{"s":"TIA","x":0.75,"y":130},{"s":"TIA","x":0.8,"y":150},{"s":"TIA","x":0.85,"y":125},{"s":"TIA","x":0.9,"y":140},{"s":"TIA","x":0.95,"y":135},{"s":"TIA","x":1,"y":130},
{"s":"TPC","x":0,"y":110},{"s":"TPC","x":0.05,"y":100},{"s":"TPC","x":0.1,"y":120},{"s":"TPC","x":0.15,"y":125},{"s":"TPC","x":0.2,"y":110},{"s":"TPC","x":0.25,"y":130},{"s":"TPC","x":0.3,"y":115},{"s":"TPC","x":0.35,"y":100},{"s":"TPC","x":0.4,"y":120},{"s":"TPC","x":0.45,"y":110},{"s":"TPC","x":0.5,"y":110},{"s":"TPC","x":0.55,"y":115},{"s":"TPC","x":0.6,"y":100},{"s":"TPC","x":0.65,"y":120},{"s":"TPC","x":0.7,"y":120},{"s":"TPC","x":0.75,"y":125},{"s":"TPC","x":0.8,"y":100},{"s":"TPC","x":0.85,"y":115},{"s":"TPC","x":0.9,"y":120},{"s":"TPC","x":0.95,"y":130},{"s":"TPC","x":1,"y":125},
{"s":"SPR","x":0,"y":50},{"s":"SPR","x":0.02,"y":90},{"s":"SPR","x":0.04,"y":120},{"s":"SPR","x":0.06,"y":170},{"s":"SPR","x":0.08,"y":110},{"s":"SPR","x":0.1,"y":60},{"s":"SPR","x":0.12,"y":40},{"s":"SPR","x":0.14,"y":70},{"s":"SPR","x":0.16,"y":40},{"s":"SPR","x":0.18,"y":20},{"s":"SPR","x":0.2,"y":20},{"s":"SPR","x":0.22,"y":30},{"s":"SPR","x":0.24,"y":60},{"s":"SPR","x":0.26,"y":50},{"s":"SPR","x":0.28,"y":70},{"s":"SPR","x":0.3,"y":16},{"s":"SPR","x":0.32,"y":110},{"s":"SPR","x":0.34,"y":100},{"s":"SPR","x":0.36,"y":80},{"s":"SPR","x":0.38,"y":90},{"s":"SPR","x":0.4,"y":30},{"s":"SPR","x":0.42,"y":30},{"s":"SPR","x":0.44,"y":100},{"s":"SPR","x":0.46,"y":70},{"s":"SPR","x":0.48,"y":80},{"s":"SPR","x":0.5,"y":90},{"s":"SPR","x":0.54,"y":90},{"s":"SPR","x":0.56,"y":100},{"s":"SPR","x":0.58,"y":80},{"s":"SPR","x":0.6,"y":110},{"s":"SPR","x":0.62,"y":80},{"s":"SPR","x":0.64,"y":110},{"s":"SPR","x":0.66,"y":80},{"s":"SPR","x":0.68,"y":50},{"s":"SPR","x":0.7,"y":100},{"s":"SPR","x":0.72,"y":90},{"s":"SPR","x":0.74,"y":170},{"s":"SPR","x":0.76,"y":60},{"s":"SPR","x":0.78,"y":40},{"s":"SPR","x":0.8,"y":80},{"s":"SPR","x":0.84,"y":100},{"s":"SPR","x":0.86,"y":90},{"s":"SPR","x":0.88,"y":60},{"s":"SPR","x":0.9,"y":130},{"s":"SPR","x":0.92,"y":140},{"s":"SPR","x":0.94,"y":125},{"s":"SPR","x":1,"y":120},
{"s":"Dreamer-V2","x":0,"y":100},{"s":"Dreamer-V2","x":0.04,"y":120},{"s":"Dreamer-V2","x":0.08,"y":140},{"s":"Dreamer-V2","x":0.12,"y":130},{"s":"Dreamer-V2","x":0.16,"y":160},{"s":"Dreamer-V2","x":0.2,"y":110},{"s":"Dreamer-V2","x":0.22,"y":80},{"s":"Dreamer-V2","x":0.26,"y":120},{"s":"Dreamer-V2","x":0.3,"y":180},{"s":"Dreamer-V2","x":0.32,"y":110},{"s":"Dreamer-V2","x":0.36,"y":130},{"s":"Dreamer-V2","x":0.4,"y":168},{"s":"Dreamer-V2","x":0.42,"y":110},{"s":"Dreamer-V2","x":0.45,"y":60},{"s":"Dreamer-V2","x":0.48,"y":120},{"s":"Dreamer-V2","x":0.52,"y":140},{"s":"Dreamer-V2","x":0.56,"y":120},{"s":"Dreamer-V2","x":0.6,"y":130},{"s":"Dreamer-V2","x":0.64,"y":110},{"s":"Dreamer-V2","x":0.68,"y":150},{"s":"Dreamer-V2","x":0.7,"y":168},{"s":"Dreamer-V2","x":0.72,"y":100},{"s":"Dreamer-V2","x":0.76,"y":120},{"s":"Dreamer-V2","x":0.78,"y":80},{"s":"Dreamer-V2","x":0.8,"y":43},{"s":"Dreamer-V2","x":0.82,"y":100},{"s":"Dreamer-V2","x":0.84,"y":140},{"s":"Dreamer-V2","x":0.88,"y":120},{"s":"Dreamer-V2","x":0.9,"y":150},{"s":"Dreamer-V2","x":0.94,"y":150},{"s":"Dreamer-V2","x":0.98,"y":140},
{"s":"VSG","x":0,"y":90},{"s":"VSG","x":0.02,"y":80},{"s":"VSG","x":0.04,"y":120},{"s":"VSG","x":0.06,"y":150},{"s":"VSG","x":0.08,"y":80},{"s":"VSG","x":0.1,"y":100},{"s":"VSG","x":0.12,"y":140},{"s":"VSG","x":0.14,"y":110},{"s":"VSG","x":0.16,"y":130},{"s":"VSG","x":0.18,"y":235},{"s":"VSG","x":0.2,"y":120},{"s":"VSG","x":0.22,"y":150},{"s":"VSG","x":0.24,"y":190},{"s":"VSG","x":0.26,"y":150},{"s":"VSG","x":0.28,"y":140},{"s":"VSG","x":0.3,"y":120},{"s":"VSG","x":0.32,"y":160},{"s":"VSG","x":0.34,"y":150},{"s":"VSG","x":0.36,"y":170},{"s":"VSG","x":0.38,"y":155},{"s":"VSG","x":0.4,"y":145},{"s":"VSG","x":0.42,"y":130},{"s":"VSG","x":0.44,"y":110},{"s":"VSG","x":0.46,"y":130},{"s":"VSG","x":0.48,"y":105},{"s":"VSG","x":0.5,"y":150},{"s":"VSG","x":0.52,"y":120},{"s":"VSG","x":0.54,"y":160},{"s":"VSG","x":0.56,"y":130},{"s":"VSG","x":0.58,"y":175},{"s":"VSG","x":0.6,"y":140},{"s":"VSG","x":0.62,"y":150},{"s":"VSG","x":0.64,"y":155},{"s":"VSG","x":0.66,"y":140},{"s":"VSG","x":0.68,"y":135},{"s":"VSG","x":0.7,"y":160},{"s":"VSG","x":0.72,"y":120},{"s":"VSG","x":0.74,"y":190},{"s":"VSG","x":0.76,"y":120},{"s":"VSG","x":0.78,"y":130},{"s":"VSG","x":0.8,"y":130},{"s":"VSG","x":0.82,"y":210},{"s":"VSG","x":0.84,"y":220},{"s":"VSG","x":0.86,"y":130},{"s":"VSG","x":0.88,"y":140},{"s":"VSG","x":0.9,"y":160},{"s":"VSG","x":0.92,"y":175},{"s":"VSG","x":0.94,"y":210},{"s":"VSG","x":0.96,"y":180},{"s":"VSG","x":0.98,"y":215},{"s":"VSG","x":1,"y":145},
{"s":"DePre","x":0,"y":80},{"s":"DePre","x":0.02,"y":40},{"s":"DePre","x":0.04,"y":100},{"s":"DePre","x":0.06,"y":120},{"s":"DePre","x":0.08,"y":150},{"s":"DePre","x":0.1,"y":140},{"s":"DePre","x":0.12,"y":90},{"s":"DePre","x":0.14,"y":150},{"s":"DePre","x":0.16,"y":160},{"s":"DePre","x":0.18,"y":160},{"s":"DePre","x":0.2,"y":200},{"s":"DePre","x":0.22,"y":200},{"s":"DePre","x":0.24,"y":195},{"s":"DePre","x":0.26,"y":132},{"s":"DePre","x":0.28,"y":222},{"s":"DePre","x":0.3,"y":220},{"s":"DePre","x":0.32,"y":215},{"s":"DePre","x":0.34,"y":235},{"s":"DePre","x":0.36,"y":265},{"s":"DePre","x":0.38,"y":302},{"s":"DePre","x":0.4,"y":217},{"s":"DePre","x":0.42,"y":250},{"s":"DePre","x":0.44,"y":250},{"s":"DePre","x":0.46,"y":280},{"s":"DePre","x":0.48,"y":300},{"s":"DePre","x":0.5,"y":270},{"s":"DePre","x":0.52,"y":280},{"s":"DePre","x":0.54,"y":285},{"s":"DePre","x":0.56,"y":285},{"s":"DePre","x":0.58,"y":351},{"s":"DePre","x":0.6,"y":374},{"s":"DePre","x":0.62,"y":268},{"s":"DePre","x":0.64,"y":340},{"s":"DePre","x":0.66,"y":270},{"s":"DePre","x":0.68,"y":270},{"s":"DePre","x":0.7,"y":360},{"s":"DePre","x":0.72,"y":410},{"s":"DePre","x":0.74,"y":340},{"s":"DePre","x":0.76,"y":270},{"s":"DePre","x":0.78,"y":400},{"s":"DePre","x":0.8,"y":441},{"s":"DePre","x":0.82,"y":293},{"s":"DePre","x":0.84,"y":492},{"s":"DePre","x":0.86,"y":470},{"s":"DePre","x":0.88,"y":420},{"s":"DePre","x":0.9,"y":392},{"s":"DePre","x":0.92,"y":410},{"s":"DePre","x":0.94,"y":524},{"s":"DePre","x":0.96,"y":500},{"s":"DePre","x":0.98,"y":445},{"s":"DePre","x":1,"y":665}
],
"CSb": [
{"s":"DePre","x":0,"l":20,"h":120},{"s":"DePre","x":0.06,"l":60,"h":150},{"s":"DePre","x":0.1,"l":60,"h":170},{"s":"DePre","x":0.14,"l":80,"h":200},{"s":"DePre","x":0.18,"l":100,"h":320},{"s":"DePre","x":0.22,"l":100,"h":250},{"s":"DePre","x":0.26,"l":80,"h":230},{"s":"DePre","x":0.3,"l":120,"h":300},{"s":"DePre","x":0.36,"l":150,"h":350},{"s":"DePre","x":0.4,"l":130,"h":320},{"s":"DePre","x":0.44,"l":150,"h":340},{"s":"DePre","x":0.5,"l":180,"h":370},{"s":"DePre","x":0.54,"l":160,"h":380},{"s":"DePre","x":0.58,"l":150,"h":680},{"s":"DePre","x":0.6,"l":170,"h":480},{"s":"DePre","x":0.62,"l":150,"h":680},{"s":"DePre","x":0.66,"l":170,"h":500},{"s":"DePre","x":0.7,"l":180,"h":600},{"s":"DePre","x":0.74,"l":150,"h":480},{"s":"DePre","x":0.78,"l":120,"h":690},{"s":"DePre","x":0.8,"l":180,"h":520},{"s":"DePre","x":0.84,"l":200,"h":620},{"s":"DePre","x":0.88,"l":230,"h":560},{"s":"DePre","x":0.92,"l":250,"h":700},{"s":"DePre","x":0.96,"l":300,"h":700},{"s":"DePre","x":1,"l":300,"h":700}
],
"PS": [
{"s":"Iso-Dreamer","x":0,"y":5},{"s":"Iso-Dreamer","x":0.05,"y":8},{"s":"Iso-Dreamer","x":0.1,"y":5},{"s":"Iso-Dreamer","x":0.15,"y":10},{"s":"Iso-Dreamer","x":0.2,"y":5},{"s":"Iso-Dreamer","x":0.24,"y":20},{"s":"Iso-Dreamer","x":0.26,"y":30},{"s":"Iso-Dreamer","x":0.3,"y":35},{"s":"Iso-Dreamer","x":0.32,"y":30},{"s":"Iso-Dreamer","x":0.34,"y":10},{"s":"Iso-Dreamer","x":0.4,"y":5},{"s":"Iso-Dreamer","x":0.45,"y":10},{"s":"Iso-Dreamer","x":0.5,"y":10},{"s":"Iso-Dreamer","x":0.55,"y":15},{"s":"Iso-Dreamer","x":0.6,"y":5},{"s":"Iso-Dreamer","x":0.65,"y":5},{"s":"Iso-Dreamer","x":0.7,"y":5},{"s":"Iso-Dreamer","x":0.75,"y":10},{"s":"Iso-Dreamer","x":0.8,"y":10},{"s":"Iso-Dreamer","x":0.86,"y":25},{"s":"Iso-Dreamer","x":0.9,"y":10},{"s":"Iso-Dreamer","x":0.95,"y":10},{"s":"Iso-Dreamer","x":1,"y":5},
{"s":"Dreamer","x":0,"y":10},{"s":"Dreamer","x":0.05,"y":5},{"s":"Dreamer","x":0.1,"y":8},{"s":"Dreamer","x":0.15,"y":5},{"s":"Dreamer","x":0.2,"y":5},{"s":"Dreamer","x":0.25,"y":8},{"s":"Dreamer","x":0.3,"y":5},{"s":"Dreamer","x":0.35,"y":10},{"s":"Dreamer","x":0.4,"y":5},{"s":"Dreamer","x":0.45,"y":8},{"s":"Dreamer","x":0.5,"y":5},{"s":"Dreamer","x":0.55,"y":10},{"s":"Dreamer","x":0.6,"y":5},{"s":"Dreamer","x":0.65,"y":8},{"s":"Dreamer","x":0.7,"y":5},{"s":"Dreamer","x":0.75,"y":10},{"s":"Dreamer","x":0.8,"y":5},{"s":"Dreamer","x":0.85,"y":8},{"s":"Dreamer","x":0.9,"y":5},{"s":"Dreamer","x":0.95,"y":8},{"s":"Dreamer","x":1,"y":5},
{"s":"DBC","x":0,"y":15},{"s":"DBC","x":0.05,"y":10},{"s":"DBC","x":0.1,"y":5},{"s":"DBC","x":0.15,"y":10},{"s":"DBC","x":0.2,"y":5},{"s":"DBC","x":0.25,"y":8},{"s":"DBC","x":0.3,"y":10},{"s":"DBC","x":0.35,"y":5},{"s":"DBC","x":0.4,"y":8},{"s":"DBC","x":0.45,"y":5},{"s":"DBC","x":0.5,"y":10},{"s":"DBC","x":0.55,"y":5},{"s":"DBC","x":0.6,"y":8},{"s":"DBC","x":0.65,"y":5},{"s":"DBC","x":0.7,"y":10},{"s":"DBC","x":0.75,"y":5},{"s":"DBC","x":0.8,"y":8},{"s":"DBC","x":0.85,"y":5},{"s":"DBC","x":0.9,"y":10},{"s":"DBC","x":0.95,"y":5},{"s":"DBC","x":1,"y":8},
{"s":"Denoised MDPs","x":0,"y":5},{"s":"Denoised MDPs","x":0.1,"y":3},{"s":"Denoised MDPs","x":0.2,"y":5},{"s":"Denoised MDPs","x":0.3,"y":4},{"s":"Denoised MDPs","x":0.4,"y":5},{"s":"Denoised MDPs","x":0.5,"y":3},{"s":"Denoised MDPs","x":0.6,"y":5},{"s":"Denoised MDPs","x":0.7,"y":4},{"s":"Denoised MDPs","x":0.8,"y":5},{"s":"Denoised MDPs","x":0.9,"y":3},{"s":"Denoised MDPs","x":1,"y":5},
{"s":"TIA","x":0,"y":15},{"s":"TIA","x":0.04,"y":10},{"s":"TIA","x":0.08,"y":5},{"s":"TIA","x":0.12,"y":8},{"s":"TIA","x":0.16,"y":5},{"s":"TIA","x":0.2,"y":10},{"s":"TIA","x":0.25,"y":5},{"s":"TIA","x":0.3,"y":8},{"s":"TIA","x":0.35,"y":5},{"s":"TIA","x":0.4,"y":5},{"s":"TIA","x":0.45,"y":8},{"s":"TIA","x":0.5,"y":5},{"s":"TIA","x":0.55,"y":5},{"s":"TIA","x":0.6,"y":8},{"s":"TIA","x":0.65,"y":5},{"s":"TIA","x":0.7,"y":5},{"s":"TIA","x":0.75,"y":10},{"s":"TIA","x":0.8,"y":5},{"s":"TIA","x":0.85,"y":8},{"s":"TIA","x":0.9,"y":5},{"s":"TIA","x":0.95,"y":8},{"s":"TIA","x":1,"y":5},
{"s":"SPR","x":0,"y":5},{"s":"SPR","x":0.05,"y":3},{"s":"SPR","x":0.1,"y":5},{"s":"SPR","x":0.15,"y":5},{"s":"SPR","x":0.2,"y":5},{"s":"SPR","x":0.25,"y":8},{"s":"SPR","x":0.3,"y":10},{"s":"SPR","x":0.35,"y":8},{"s":"SPR","x":0.4,"y":10},{"s":"SPR","x":0.45,"y":12},{"s":"SPR","x":0.5,"y":15},{"s":"SPR","x":0.55,"y":10},{"s":"SPR","x":0.6,"y":10},{"s":"SPR","x":0.64,"y":12},{"s":"SPR","x":0.7,"y":15},{"s":"SPR","x":0.76,"y":10},{"s":"SPR","x":0.8,"y":15},{"s":"SPR","x":0.86,"y":10},{"s":"SPR","x":0.9,"y":15},{"s":"SPR","x":0.94,"y":10},{"s":"SPR","x":1,"y":15},
{"s":"Dreamer-V2","x":0,"y":0},{"s":"Dreamer-V2","x":0.02,"y":20},{"s":"Dreamer-V2","x":0.04,"y":3},{"s":"Dreamer-V2","x":0.06,"y":25},{"s":"Dreamer-V2","x":0.1,"y":25},{"s":"Dreamer-V2","x":0.13,"y":5},{"s":"Dreamer-V2","x":0.16,"y":3},{"s":"Dreamer-V2","x":0.2,"y":5},{"s":"Dreamer-V2","x":0.3,"y":5},{"s":"Dreamer-V2","x":0.4,"y":5},{"s":"Dreamer-V2","x":0.5,"y":5},{"s":"Dreamer-V2","x":0.6,"y":5},{"s":"Dreamer-V2","x":0.7,"y":5},{"s":"Dreamer-V2","x":0.8,"y":5},{"s":"Dreamer-V2","x":0.9,"y":5},{"s":"Dreamer-V2","x":1,"y":5},
{"s":"VSG","x":0,"y":35},{"s":"VSG","x":0.02,"y":25},{"s":"VSG","x":0.04,"y":5},{"s":"VSG","x":0.06,"y":5},{"s":"VSG","x":0.08,"y":5},{"s":"VSG","x":0.1,"y":3},{"s":"VSG","x":0.12,"y":3},{"s":"VSG","x":0.14,"y":5},{"s":"VSG","x":0.16,"y":25},{"s":"VSG","x":0.18,"y":15},{"s":"VSG","x":0.2,"y":20},{"s":"VSG","x":0.22,"y":10},{"s":"VSG","x":0.24,"y":5},{"s":"VSG","x":0.26,"y":10},{"s":"VSG","x":0.28,"y":15},{"s":"VSG","x":0.3,"y":10},{"s":"VSG","x":0.32,"y":10},{"s":"VSG","x":0.34,"y":25},{"s":"VSG","x":0.36,"y":5},{"s":"VSG","x":0.38,"y":5},{"s":"VSG","x":0.4,"y":5},{"s":"VSG","x":0.42,"y":5},{"s":"VSG","x":0.44,"y":5},{"s":"VSG","x":0.46,"y":40},{"s":"VSG","x":0.48,"y":5},{"s":"VSG","x":0.5,"y":5},{"s":"VSG","x":0.52,"y":5},{"s":"VSG","x":0.54,"y":5},{"s":"VSG","x":0.56,"y":10},{"s":"VSG","x":0.58,"y":10},{"s":"VSG","x":0.6,"y":20},{"s":"VSG","x":0.62,"y":5},{"s":"VSG","x":0.64,"y":285},{"s":"VSG","x":0.66,"y":240},{"s":"VSG","x":0.68,"y":5},{"s":"VSG","x":0.7,"y":290},{"s":"VSG","x":0.72,"y":40},{"s":"VSG","x":0.74,"y":40},{"s":"VSG","x":0.76,"y":10},{"s":"VSG","x":0.78,"y":5},{"s":"VSG","x":0.8,"y":190},{"s":"VSG","x":0.82,"y":5},{"s":"VSG","x":0.84,"y":5},{"s":"VSG","x":0.86,"y":160},{"s":"VSG","x":0.88,"y":5},{"s":"VSG","x":0.9,"y":5},{"s":"VSG","x":0.92,"y":5},{"s":"VSG","x":0.94,"y":265},{"s":"VSG","x":0.96,"y":5},{"s":"VSG","x":0.98,"y":5},{"s":"VSG","x":1,"y":5},
{"s":"DePre","x":0,"y":5},{"s":"DePre","x":0.04,"y":5},{"s":"DePre","x":0.08,"y":5},{"s":"DePre","x":0.12,"y":5},{"s":"DePre","x":0.16,"y":5},{"s":"DePre","x":0.2,"y":5},{"s":"DePre","x":0.24,"y":10},{"s":"DePre","x":0.26,"y":55},{"s":"DePre","x":0.28,"y":10},{"s":"DePre","x":0.3,"y":10},{"s":"DePre","x":0.32,"y":60},{"s":"DePre","x":0.34,"y":10},{"s":"DePre","x":0.36,"y":10},{"s":"DePre","x":0.38,"y":60},{"s":"DePre","x":0.4,"y":5},{"s":"DePre","x":0.44,"y":5},{"s":"DePre","x":0.48,"y":10},{"s":"DePre","x":0.5,"y":35},{"s":"DePre","x":0.52,"y":20},{"s":"DePre","x":0.54,"y":10},{"s":"DePre","x":0.58,"y":10},{"s":"DePre","x":0.6,"y":5},{"s":"DePre","x":0.64,"y":5},{"s":"DePre","x":0.68,"y":10},{"s":"DePre","x":0.72,"y":5},{"s":"DePre","x":0.74,"y":25},{"s":"DePre","x":0.76,"y":10},{"s":"DePre","x":0.8,"y":10},{"s":"DePre","x":0.82,"y":30},{"s":"DePre","x":0.84,"y":15},{"s":"DePre","x":0.88,"y":10},{"s":"DePre","x":0.9,"y":5},{"s":"DePre","x":0.94,"y":10},{"s":"DePre","x":0.96,"y":5},{"s":"DePre","x":0.98,"y":5},{"s":"DePre","x":1,"y":40},
{"s":"TPC","x":0,"y":0},{"s":"TPC","x":0.04,"y":0},{"s":"TPC","x":0.08,"y":0},{"s":"TPC","x":0.12,"y":0},{"s":"TPC","x":0.16,"y":0},{"s":"TPC","x":0.2,"y":0},{"s":"TPC","x":0.22,"y":25},{"s":"TPC","x":0.24,"y":0},{"s":"TPC","x":0.28,"y":0},{"s":"TPC","x":0.3,"y":25},{"s":"TPC","x":0.32,"y":0},{"s":"TPC","x":0.36,"y":0},{"s":"TPC","x":0.38,"y":25},{"s":"TPC","x":0.4,"y":0},{"s":"TPC","x":0.44,"y":0},{"s":"TPC","x":0.46,"y":25},{"s":"TPC","x":0.48,"y":0},{"s":"TPC","x":0.5,"y":25},{"s":"TPC","x":0.52,"y":0},{"s":"TPC","x":0.54,"y":30},{"s":"TPC","x":0.56,"y":30},{"s":"TPC","x":0.58,"y":30},{"s":"TPC","x":0.6,"y":0},{"s":"TPC","x":0.64,"y":0},{"s":"TPC","x":0.68,"y":0},{"s":"TPC","x":0.7,"y":25},{"s":"TPC","x":0.72,"y":0},{"s":"TPC","x":0.74,"y":25},{"s":"TPC","x":0.76,"y":0},{"s":"TPC","x":0.8,"y":0},{"s":"TPC","x":0.9,"y":0},{"s":"TPC","x":1,"y":0}
],
"PSb": [
{"s":"VSG","x":0.58,"l":0,"h":30},{"s":"VSG","x":0.62,"l":0,"h":30},{"s":"VSG","x":0.64,"l":0,"h":580},{"s":"VSG","x":0.66,"l":0,"h":400},{"s":"VSG","x":0.68,"l":0,"h":40},{"s":"VSG","x":0.7,"l":0,"h":560},{"s":"VSG","x":0.72,"l":0,"h":60},{"s":"VSG","x":0.76,"l":0,"h":20},{"s":"VSG","x":0.78,"l":0,"h":20},{"s":"VSG","x":0.8,"l":0,"h":350},{"s":"VSG","x":0.82,"l":0,"h":30},{"s":"VSG","x":0.84,"l":0,"h":30},{"s":"VSG","x":0.86,"l":0,"h":300},{"s":"VSG","x":0.88,"l":0,"h":30},{"s":"VSG","x":0.92,"l":0,"h":30},{"s":"VSG","x":0.94,"l":0,"h":300},{"s":"VSG","x":0.96,"l":0,"h":30},{"s":"VSG","x":1,"l":0,"h":20}
],
"RE": [
{"s":"Iso-Dreamer","x":0,"y":50},{"s":"Iso-Dreamer","x":0.04,"y":20},{"s":"Iso-Dreamer","x":0.08,"y":100},{"s":"Iso-Dreamer","x":0.12,"y":50},{"s":"Iso-Dreamer","x":0.16,"y":100},{"s":"Iso-Dreamer","x":0.2,"y":50},{"s":"Iso-Dreamer","x":0.24,"y":150},{"s":"Iso-Dreamer","x":0.28,"y":50},{"s":"Iso-Dreamer","x":0.32,"y":100},{"s":"Iso-Dreamer","x":0.36,"y":0},{"s":"Iso-Dreamer","x":0.4,"y":200},{"s":"Iso-Dreamer","x":0.44,"y":100},{"s":"Iso-Dreamer","x":0.48,"y":200},{"s":"Iso-Dreamer","x":0.52,"y":50},{"s":"Iso-Dreamer","x":0.56,"y":200},{"s":"Iso-Dreamer","x":0.6,"y":100},{"s":"Iso-Dreamer","x":0.64,"y":50},{"s":"Iso-Dreamer","x":0.68,"y":150},{"s":"Iso-Dreamer","x":0.72,"y":50},{"s":"Iso-Dreamer","x":0.74,"y":300},{"s":"Iso-Dreamer","x":0.76,"y":430},{"s":"Iso-Dreamer","x":0.78,"y":440},{"s":"Iso-Dreamer","x":0.8,"y":100},{"s":"Iso-Dreamer","x":0.84,"y":200},{"s":"Iso-Dreamer","x":0.88,"y":50},{"s":"Iso-Dreamer","x":0.92,"y":100},{"s":"Iso-Dreamer","x":0.96,"y":150},{"s":"Iso-Dreamer","x":1,"y":50},
{"s":"Dreamer","x":0,"y":100},{"s":"Dreamer","x":0.04,"y":60},{"s":"Dreamer","x":0.08,"y":120},{"s":"Dreamer","x":0.12,"y":80},{"s":"Dreamer","x":0.16,"y":100},{"s":"Dreamer","x":0.2,"y":60},{"s":"Dreamer","x":0.24,"y":120},{"s":"Dreamer","x":0.28,"y":80},{"s":"Dreamer","x":0.32,"y":100},{"s":"Dreamer","x":0.36,"y":60},{"s":"Dreamer","x":0.4,"y":120},{"s":"Dreamer","x":0.44,"y":80},{"s":"Dreamer","x":0.48,"y":100},{"s":"Dreamer","x":0.52,"y":60},{"s":"Dreamer","x":0.56,"y":100},{"s":"Dreamer","x":0.6,"y":80},{"s":"Dreamer","x":0.64,"y":60},{"s":"Dreamer","x":0.68,"y":100},{"s":"Dreamer","x":0.72,"y":80},{"s":"Dreamer","x":0.76,"y":120},{"s":"Dreamer","x":0.8,"y":60},{"s":"Dreamer","x":0.84,"y":100},{"s":"Dreamer","x":0.88,"y":80},{"s":"Dreamer","x":0.92,"y":120},{"s":"Dreamer","x":0.96,"y":60},{"s":"Dreamer","x":1,"y":100},
{"s":"DBC","x":0,"y":50},{"s":"DBC","x":0.04,"y":100},{"s":"DBC","x":0.08,"y":80},{"s":"DBC","x":0.12,"y":120},{"s":"DBC","x":0.16,"y":60},{"s":"DBC","x":0.2,"y":100},{"s":"DBC","x":0.24,"y":80},{"s":"DBC","x":0.28,"y":120},{"s":"DBC","x":0.32,"y":90},{"s":"DBC","x":0.36,"y":100},{"s":"DBC","x":0.4,"y":80},{"s":"DBC","x":0.42,"y":200},{"s":"DBC","x":0.44,"y":150},{"s":"DBC","x":0.48,"y":120},{"s":"DBC","x":0.52,"y":80},{"s":"DBC","x":0.56,"y":100},{"s":"DBC","x":0.6,"y":80},{"s":"DBC","x":0.64,"y":120},{"s":"DBC","x":0.68,"y":150},{"s":"DBC","x":0.72,"y":100},{"s":"DBC","x":0.76,"y":200},{"s":"DBC","x":0.8,"y":120},{"s":"DBC","x":0.84,"y":100},{"s":"DBC","x":0.88,"y":80},{"s":"DBC","x":0.92,"y":120},{"s":"DBC","x":0.96,"y":100},{"s":"DBC","x":1,"y":200},
{"s":"TIA","x":0,"y":100},{"s":"TIA","x":0.04,"y":150},{"s":"TIA","x":0.08,"y":80},{"s":"TIA","x":0.12,"y":180},{"s":"TIA","x":0.16,"y":100},{"s":"TIA","x":0.2,"y":50},{"s":"TIA","x":0.24,"y":150},{"s":"TIA","x":0.28,"y":100},{"s":"TIA","x":0.32,"y":50},{"s":"TIA","x":0.36,"y":200},{"s":"TIA","x":0.4,"y":100},{"s":"TIA","x":0.44,"y":50},{"s":"TIA","x":0.48,"y":0},{"s":"TIA","x":0.52,"y":150},{"s":"TIA","x":0.56,"y":50},{"s":"TIA","x":0.6,"y":0},{"s":"TIA","x":0.64,"y":100},{"s":"TIA","x":0.68,"y":50},{"s":"TIA","x":0.72,"y":150},{"s":"TIA","x":0.76,"y":100},{"s":"TIA","x":0.8,"y":50},{"s":"TIA","x":0.84,"y":200},{"s":"TIA","x":0.88,"y":100},{"s":"TIA","x":0.92,"y":50},{"s":"TIA","x":0.96,"y":150},{"s":"TIA","x":1,"y":100},
{"s":"Dreamer-V2","x":0,"y":50},{"s":"Dreamer-V2","x":0.04,"y":100},{"s":"Dreamer-V2","x":0.08,"y":50},{"s":"Dreamer-V2","x":0.12,"y":150},{"s":"Dreamer-V2","x":0.16,"y":80},{"s":"Dreamer-V2","x":0.2,"y":100},{"s":"Dreamer-V2","x":0.24,"y":50},{"s":"Dreamer-V2","x":0.28,"y":120},{"s":"Dreamer-V2","x":0.32,"y":80},{"s":"Dreamer-V2","x":0.36,"y":50},{"s":"Dreamer-V2","x":0.4,"y":100},{"s":"Dreamer-V2","x":0.44,"y":50},{"s":"Dreamer-V2","x":0.48,"y":100},{"s":"Dreamer-V2","x":0.52,"y":80},{"s":"Dreamer-V2","x":0.56,"y":50},{"s":"Dreamer-V2","x":0.6,"y":100},{"s":"Dreamer-V2","x":0.64,"y":80},{"s":"Dreamer-V2","x":0.68,"y":50},{"s":"Dreamer-V2","x":0.72,"y":100},{"s":"Dreamer-V2","x":0.76,"y":80},{"s":"Dreamer-V2","x":0.8,"y":50},{"s":"Dreamer-V2","x":0.84,"y":100},{"s":"Dreamer-V2","x":0.88,"y":80},{"s":"Dreamer-V2","x":0.92,"y":50},{"s":"Dreamer-V2","x":0.96,"y":100},{"s":"Dreamer-V2","x":1,"y":80},
{"s":"SPR","x":0,"y":80},{"s":"SPR","x":0.04,"y":100},{"s":"SPR","x":0.08,"y":130},{"s":"SPR","x":0.1,"y":150},{"s":"SPR","x":0.12,"y":80},{"s":"SPR","x":0.14,"y":100},{"s":"SPR","x":0.18,"y":130},{"s":"SPR","x":0.2,"y":100},{"s":"SPR","x":0.24,"y":80},{"s":"SPR","x":0.28,"y":140},{"s":"SPR","x":0.32,"y":100},{"s":"SPR","x":0.36,"y":80},{"s":"SPR","x":0.4,"y":60},{"s":"SPR","x":0.44,"y":130},{"s":"SPR","x":0.48,"y":80},{"s":"SPR","x":0.5,"y":100},{"s":"SPR","x":0.52,"y":150},{"s":"SPR","x":0.56,"y":90},{"s":"SPR","x":0.6,"y":120},{"s":"SPR","x":0.64,"y":100},{"s":"SPR","x":0.68,"y":80},{"s":"SPR","x":0.72,"y":150},{"s":"SPR","x":0.76,"y":100},{"s":"SPR","x":0.8,"y":60},{"s":"SPR","x":0.84,"y":120},{"s":"SPR","x":0.88,"y":90},{"s":"SPR","x":0.92,"y":140},{"s":"SPR","x":0.96,"y":100},{"s":"SPR","x":1,"y":150},
{"s":"DePre","x":0,"y":50},{"s":"DePre","x":0.04,"y":150},{"s":"DePre","x":0.08,"y":0},{"s":"DePre","x":0.12,"y":50},{"s":"DePre","x":0.16,"y":200},{"s":"DePre","x":0.2,"y":0},{"s":"DePre","x":0.24,"y":0},{"s":"DePre","x":0.26,"y":0},{"s":"DePre","x":0.3,"y":312},{"s":"DePre","x":0.32,"y":50},{"s":"DePre","x":0.36,"y":0},{"s":"DePre","x":0.4,"y":100},{"s":"DePre","x":0.44,"y":0},{"s":"DePre","x":0.48,"y":100},{"s":"DePre","x":0.5,"y":220},{"s":"DePre","x":0.52,"y":50},{"s":"DePre","x":0.56,"y":0},{"s":"DePre","x":0.6,"y":100},{"s":"DePre","x":0.64,"y":100},{"s":"DePre","x":0.68,"y":200},{"s":"DePre","x":0.72,"y":0},{"s":"DePre","x":0.76,"y":100},{"s":"DePre","x":0.8,"y":150},{"s":"DePre","x":0.84,"y":300},{"s":"DePre","x":0.86,"y":20},{"s":"DePre","x":0.88,"y":100},{"s":"DePre","x":0.92,"y":0},{"s":"DePre","x":0.96,"y":50},{"s":"DePre","x":1,"y":310},
{"s":"VSG","x":0,"y":290},{"s":"VSG","x":0.02,"y":50},{"s":"VSG","x":0.04,"y":100},{"s":"VSG","x":0.06,"y":180},{"s":"VSG","x":0.08,"y":0},{"s":"VSG","x":0.1,"y":0},{"s":"VSG","x":0.12,"y":100},{"s":"VSG","x":0.14,"y":0},{"s":"VSG","x":0.16,"y":400},{"s":"VSG","x":0.18,"y":390},{"s":"VSG","x":0.2,"y":0},{"s":"VSG","x":0.22,"y":348},{"s":"VSG","x":0.24,"y":100},{"s":"VSG","x":0.26,"y":50},{"s":"VSG","x":0.28,"y":20},{"s":"VSG","x":0.3,"y":20},{"s":"VSG","x":0.32,"y":100},{"s":"VSG","x":0.34,"y":0},{"s":"VSG","x":0.36,"y":0},{"s":"VSG","x":0.38,"y":0},{"s":"VSG","x":0.4,"y":100},{"s":"VSG","x":0.42,"y":30},{"s":"VSG","x":0.44,"y":0},{"s":"VSG","x":0.46,"y":0},{"s":"VSG","x":0.48,"y":170},{"s":"VSG","x":0.5,"y":170},{"s":"VSG","x":0.52,"y":50},{"s":"VSG","x":0.54,"y":20},{"s":"VSG","x":0.56,"y":0},{"s":"VSG","x":0.58,"y":0},{"s":"VSG","x":0.6,"y":885},{"s":"VSG","x":0.62,"y":100},{"s":"VSG","x":0.64,"y":0},{"s":"VSG","x":0.66,"y":100},{"s":"VSG","x":0.68,"y":100},{"s":"VSG","x":0.7,"y":350},{"s":"VSG","x":0.72,"y":470},{"s":"VSG","x":0.74,"y":310},{"s":"VSG","x":0.76,"y":480},{"s":"VSG","x":0.78,"y":400},{"s":"VSG","x":0.8,"y":200},{"s":"VSG","x":0.82,"y":50},{"s":"VSG","x":0.84,"y":100},{"s":"VSG","x":0.86,"y":200},{"s":"VSG","x":0.88,"y":100},{"s":"VSG","x":0.9,"y":50},{"s":"VSG","x":0.92,"y":100},{"s":"VSG","x":0.94,"y":150},{"s":"VSG","x":0.96,"y":0},{"s":"VSG","x":0.98,"y":635},{"s":"VSG","x":1,"y":100},
{"s":"TPC","x":0,"y":0},{"s":"TPC","x":0.02,"y":0},{"s":"TPC","x":0.04,"y":200},{"s":"TPC","x":0.06,"y":460},{"s":"TPC","x":0.08,"y":0},{"s":"TPC","x":0.1,"y":455},{"s":"TPC","x":0.12,"y":200},{"s":"TPC","x":0.14,"y":0},{"s":"TPC","x":0.16,"y":225},{"s":"TPC","x":0.18,"y":0},{"s":"TPC","x":0.2,"y":975},{"s":"TPC","x":0.22,"y":0},{"s":"TPC","x":0.24,"y":0},{"s":"TPC","x":0.26,"y":290},{"s":"TPC","x":0.28,"y":100},{"s":"TPC","x":0.3,"y":50},{"s":"TPC","x":0.32,"y":0},{"s":"TPC","x":0.34,"y":170},{"s":"TPC","x":0.36,"y":0},{"s":"TPC","x":0.38,"y":270},{"s":"TPC","x":0.4,"y":100},{"s":"TPC","x":0.42,"y":0},{"s":"TPC","x":0.44,"y":150},{"s":"TPC","x":0.46,"y":50},{"s":"TPC","x":0.48,"y":100},{"s":"TPC","x":0.5,"y":0},{"s":"TPC","x":0.52,"y":50},{"s":"TPC","x":0.54,"y":0},{"s":"TPC","x":0.56,"y":80},{"s":"TPC","x":0.58,"y":30},{"s":"TPC","x":0.6,"y":0},{"s":"TPC","x":0.62,"y":0},{"s":"TPC","x":0.64,"y":100},{"s":"TPC","x":0.66,"y":0},{"s":"TPC","x":0.68,"y":20},{"s":"TPC","x":0.7,"y":150},{"s":"TPC","x":0.72,"y":50},{"s":"TPC","x":0.74,"y":0},{"s":"TPC","x":0.76,"y":0},{"s":"TPC","x":0.8,"y":220},{"s":"TPC","x":0.82,"y":0},{"s":"TPC","x":0.84,"y":20},{"s":"TPC","x":0.86,"y":0},{"s":"TPC","x":0.88,"y":50},{"s":"TPC","x":0.9,"y":0},{"s":"TPC","x":0.92,"y":100},{"s":"TPC","x":0.94,"y":20},{"s":"TPC","x":0.96,"y":130},{"s":"TPC","x":0.98,"y":0},{"s":"TPC","x":1,"y":0},
{"s":"Denoised MDPs","x":0,"y":0},{"s":"Denoised MDPs","x":0.02,"y":0},{"s":"Denoised MDPs","x":0.04,"y":100},{"s":"Denoised MDPs","x":0.08,"y":100},{"s":"Denoised MDPs","x":0.12,"y":120},{"s":"Denoised MDPs","x":0.16,"y":130},{"s":"Denoised MDPs","x":0.2,"y":150},{"s":"Denoised MDPs","x":0.24,"y":130},{"s":"Denoised MDPs","x":0.26,"y":150},{"s":"Denoised MDPs","x":0.3,"y":120},{"s":"Denoised MDPs","x":0.34,"y":150},{"s":"Denoised MDPs","x":0.36,"y":130},{"s":"Denoised MDPs","x":0.4,"y":100},{"s":"Denoised MDPs","x":0.44,"y":100},{"s":"Denoised MDPs","x":0.48,"y":110},{"s":"Denoised MDPs","x":0.54,"y":110},{"s":"Denoised MDPs","x":0.58,"y":175},{"s":"Denoised MDPs","x":0.62,"y":110},{"s":"Denoised MDPs","x":0.66,"y":80},{"s":"Denoised MDPs","x":0.7,"y":70},{"s":"Denoised MDPs","x":0.74,"y":90},{"s":"Denoised MDPs","x":0.76,"y":90},{"s":"Denoised MDPs","x":0.8,"y":100},{"s":"Denoised MDPs","x":0.84,"y":130},{"s":"Denoised MDPs","x":0.88,"y":100},{"s":"Denoised MDPs","x":0.92,"y":100},{"s":"Denoised MDPs","x":0.96,"y":80},{"s":"Denoised MDPs","x":1,"y":80}
],
"REb": [
{"s":"VSG","x":0,"l":-50,"h":420},{"s":"VSG","x":0.1,"l":-80,"h":300},{"s":"VSG","x":0.16,"l":-100,"h":700},{"s":"VSG","x":0.2,"l":-50,"h":250},{"s":"VSG","x":0.3,"l":-80,"h":350},{"s":"VSG","x":0.4,"l":-60,"h":300},{"s":"VSG","x":0.5,"l":-50,"h":320},{"s":"VSG","x":0.6,"l":-100,"h":900},{"s":"VSG","x":0.64,"l":-80,"h":250},{"s":"VSG","x":0.7,"l":-80,"h":700},{"s":"VSG","x":0.76,"l":-50,"h":900},{"s":"VSG","x":0.8,"l":-50,"h":500},{"s":"VSG","x":0.86,"l":-80,"h":400},{"s":"VSG","x":0.9,"l":-60,"h":300},{"s":"VSG","x":0.98,"l":-50,"h":700},{"s":"VSG","x":1,"l":-50,"h":300},
{"s":"Iso-Dreamer","x":0,"l":-100,"h":200},{"s":"Iso-Dreamer","x":0.06,"l":-250,"h":1000},{"s":"Iso-Dreamer","x":0.1,"l":-100,"h":300},{"s":"Iso-Dreamer","x":0.2,"l":-150,"h":250},{"s":"Iso-Dreamer","x":0.3,"l":-100,"h":300},{"s":"Iso-Dreamer","x":0.4,"l":-150,"h":400},{"s":"Iso-Dreamer","x":0.5,"l":-100,"h":300},{"s":"Iso-Dreamer","x":0.6,"l":-150,"h":300},{"s":"Iso-Dreamer","x":0.7,"l":-100,"h":400},{"s":"Iso-Dreamer","x":0.8,"l":-200,"h":300},{"s":"Iso-Dreamer","x":0.9,"l":-100,"h":300},{"s":"Iso-Dreamer","x":1,"l":-100,"h":200}
],
"CC": [
{"s":"Denoised MDPs","x":0,"y":0},{"s":"Denoised MDPs","x":0.2,"y":0},{"s":"Denoised MDPs","x":0.4,"y":0},{"s":"Denoised MDPs","x":0.6,"y":0},{"s":"Denoised MDPs","x":0.8,"y":0},{"s":"Denoised MDPs","x":1,"y":0},
{"s":"Iso-Dreamer","x":0,"y":0},{"s":"Iso-Dreamer","x":0.02,"y":490},{"s":"Iso-Dreamer","x":0.04,"y":0},{"s":"Iso-Dreamer","x":0.08,"y":0},{"s":"Iso-Dreamer","x":0.1,"y":450},{"s":"Iso-Dreamer","x":0.12,"y":0},{"s":"Iso-Dreamer","x":0.2,"y":0},{"s":"Iso-Dreamer","x":0.26,"y":480},{"s":"Iso-Dreamer","x":0.28,"y":0},{"s":"Iso-Dreamer","x":0.34,"y":0},{"s":"Iso-Dreamer","x":0.44,"y":0},{"s":"Iso-Dreamer","x":0.48,"y":450},{"s":"Iso-Dreamer","x":0.5,"y":500},{"s":"Iso-Dreamer","x":0.52,"y":0},{"s":"Iso-Dreamer","x":0.6,"y":0},{"s":"Iso-Dreamer","x":0.64,"y":0},{"s":"Iso-Dreamer","x":0.68,"y":500},{"s":"Iso-Dreamer","x":0.7,"y":450},{"s":"Iso-Dreamer","x":0.72,"y":0},{"s":"Iso-Dreamer","x":0.8,"y":0},{"s":"Iso-Dreamer","x":0.9,"y":0},{"s":"Iso-Dreamer","x":0.94,"y":500},{"s":"Iso-Dreamer","x":0.96,"y":500},{"s":"Iso-Dreamer","x":0.98,"y":0},{"s":"Iso-Dreamer","x":1,"y":0},
{"s":"Dreamer","x":0,"y":0},{"s":"Dreamer","x":0.05,"y":50},{"s":"Dreamer","x":0.1,"y":0},{"s":"Dreamer","x":0.15,"y":100},{"s":"Dreamer","x":0.2,"y":50},{"s":"Dreamer","x":0.25,"y":0},{"s":"Dreamer","x":0.3,"y":80},{"s":"Dreamer","x":0.35,"y":50},{"s":"Dreamer","x":0.4,"y":100},{"s":"Dreamer","x":0.45,"y":0},{"s":"Dreamer","x":0.5,"y":50},{"s":"Dreamer","x":0.55,"y":80},{"s":"Dreamer","x":0.6,"y":50},{"s":"Dreamer","x":0.65,"y":0},{"s":"Dreamer","x":0.7,"y":100},{"s":"Dreamer","x":0.75,"y":50},{"s":"Dreamer","x":0.8,"y":80},{"s":"Dreamer","x":0.85,"y":50},{"s":"Dreamer","x":0.9,"y":100},{"s":"Dreamer","x":0.95,"y":50},{"s":"Dreamer","x":1,"y":100},
{"s":"DBC","x":0,"y":0},{"s":"DBC","x":0.04,"y":100},{"s":"DBC","x":0.08,"y":0},{"s":"DBC","x":0.12,"y":350},{"s":"DBC","x":0.14,"y":250},{"s":"DBC","x":0.16,"y":0},{"s":"DBC","x":0.2,"y":0},{"s":"DBC","x":0.24,"y":200},{"s":"DBC","x":0.28,"y":0},{"s":"DBC","x":0.32,"y":100},{"s":"DBC","x":0.36,"y":0},{"s":"DBC","x":0.4,"y":600},{"s":"DBC","x":0.44,"y":0},{"s":"DBC","x":0.48,"y":100},{"s":"DBC","x":0.52,"y":0},{"s":"DBC","x":0.56,"y":0},{"s":"DBC","x":0.6,"y":50},{"s":"DBC","x":0.64,"y":0},{"s":"DBC","x":0.68,"y":100},{"s":"DBC","x":0.72,"y":0},{"s":"DBC","x":0.76,"y":50},{"s":"DBC","x":0.8,"y":0},{"s":"DBC","x":0.84,"y":100},{"s":"DBC","x":0.88,"y":0},{"s":"DBC","x":0.92,"y":50},{"s":"DBC","x":0.96,"y":0},{"s":"DBC","x":1,"y":50},
{"s":"TIA","x":0,"y":0},{"s":"TIA","x":0.04,"y":0},{"s":"TIA","x":0.08,"y":50},{"s":"TIA","x":0.12,"y":0},{"s":"TIA","x":0.16,"y":100},{"s":"TIA","x":0.18,"y":150},{"s":"TIA","x":0.2,"y":50},{"s":"TIA","x":0.24,"y":250},{"s":"TIA","x":0.26,"y":50},{"s":"TIA","x":0.3,"y":200},{"s":"TIA","x":0.34,"y":0},{"s":"TIA","x":0.36,"y":300},{"s":"TIA","x":0.38,"y":100},{"s":"TIA","x":0.42,"y":0},{"s":"TIA","x":0.46,"y":100},{"s":"TIA","x":0.5,"y":50},{"s":"TIA","x":0.54,"y":0},{"s":"TIA","x":0.58,"y":100},{"s":"TIA","x":0.62,"y":0},{"s":"TIA","x":0.66,"y":100},{"s":"TIA","x":0.7,"y":50},{"s":"TIA","x":0.74,"y":100},{"s":"TIA","x":0.78,"y":50},{"s":"TIA","x":0.82,"y":150},{"s":"TIA","x":0.86,"y":100},{"s":"TIA","x":0.9,"y":50},{"s":"TIA","x":0.94,"y":200},{"s":"TIA","x":1,"y":100},
{"s":"SPR","x":0,"y":0},{"s":"SPR","x":0.02,"y":50},{"s":"SPR","x":0.04,"y":0},{"s":"SPR","x":0.06,"y":100},{"s":"SPR","x":0.08,"y":150},{"s":"SPR","x":0.1,"y":100},{"s":"SPR","x":0.12,"y":130},{"s":"SPR","x":0.14,"y":120},{"s":"SPR","x":0.16,"y":130},{"s":"SPR","x":0.18,"y":170},{"s":"SPR","x":0.2,"y":210},{"s":"SPR","x":0.22,"y":210},{"s":"SPR","x":0.24,"y":100},{"s":"SPR","x":0.26,"y":60},{"s":"SPR","x":0.28,"y":150},{"s":"SPR","x":0.3,"y":200},{"s":"SPR","x":0.32,"y":150},{"s":"SPR","x":0.34,"y":50},{"s":"SPR","x":0.36,"y":150},{"s":"SPR","x":0.38,"y":100},{"s":"SPR","x":0.4,"y":50},{"s":"SPR","x":0.42,"y":160},{"s":"SPR","x":0.44,"y":160},{"s":"SPR","x":0.46,"y":150},{"s":"SPR","x":0.48,"y":100},{"s":"SPR","x":0.5,"y":120},{"s":"SPR","x":0.52,"y":100},{"s":"SPR","x":0.54,"y":200},{"s":"SPR","x":0.56,"y":100},{"s":"SPR","x":0.58,"y":200},{"s":"SPR","x":0.6,"y":250},{"s":"SPR","x":0.62,"y":220},{"s":"SPR","x":0.64,"y":170},{"s":"SPR","x":0.66,"y":100},{"s":"SPR","x":0.68,"y":100},{"s":"SPR","x":0.7,"y":100},{"s":"SPR","x":0.72,"y":150},{"s":"SPR","x":0.74,"y":200},{"s":"SPR","x":0.76,"y":150},{"s":"SPR","x":0.78,"y":150},{"s":"SPR","x":0.8,"y":250},{"s":"SPR","x":0.82,"y":100},{"s":"SPR","x":0.84,"y":150},{"s":"SPR","x":0.86,"y":250},{"s":"SPR","x":0.88,"y":200},{"s":"SPR","x":0.9,"y":200},{"s":"SPR","x":0.92,"y":170},{"s":"SPR","x":0.94,"y":100},{"s":"SPR","x":0.96,"y":150},{"s":"SPR","x":0.98,"y":100},{"s":"SPR","x":1,"y":100},
{"s":"Dreamer-V2","x":0,"y":400},{"s":"Dreamer-V2","x":0.02,"y":200},{"s":"Dreamer-V2","x":0.04,"y":0},{"s":"Dreamer-V2","x":0.06,"y":0},{"s":"Dreamer-V2","x":0.08,"y":380},{"s":"Dreamer-V2","x":0.1,"y":0},{"s":"Dreamer-V2","x":0.12,"y":0},{"s":"Dreamer-V2","x":0.14,"y":150},{"s":"Dreamer-V2","x":0.16,"y":455},{"s":"Dreamer-V2","x":0.18,"y":0},{"s":"Dreamer-V2","x":0.28,"y":50},{"s":"Dreamer-V2","x":0.3,"y":230},{"s":"Dreamer-V2","x":0.32,"y":0},{"s":"Dreamer-V2","x":0.58,"y":0},{"s":"Dreamer-V2","x":0.6,"y":250},{"s":"Dreamer-V2","x":0.62,"y":0},{"s":"Dreamer-V2","x":0.66,"y":0},{"s":"Dreamer-V2","x":0.68,"y":480},{"s":"Dreamer-V2","x":0.7,"y":470},{"s":"Dreamer-V2","x":0.72,"y":430},{"s":"Dreamer-V2","x":0.74,"y":0},{"s":"Dreamer-V2","x":0.76,"y":0},{"s":"Dreamer-V2","x":0.78,"y":350},{"s":"Dreamer-V2","x":0.8,"y":0},{"s":"Dreamer-V2","x":0.82,"y":0},{"s":"Dreamer-V2","x":0.84,"y":490},{"s":"Dreamer-V2","x":0.86,"y":0},{"s":"Dreamer-V2","x":0.9,"y":0},{"s":"Dreamer-V2","x":0.92,"y":430},{"s":"Dreamer-V2","x":0.94,"y":0},{"s":"Dreamer-V2","x":0.96,"y":0},{"s":"Dreamer-V2","x":0.98,"y":500},{"s":"Dreamer-V2","x":1,"y":0},
{"s":"VSG","x":0,"y":0},{"s":"VSG","x":0.02,"y":0},{"s":"VSG","x":0.04,"y":500},{"s":"VSG","x":0.06,"y":0},{"s":"VSG","x":0.08,"y":0},{"s":"VSG","x":0.1,"y":50},{"s":"VSG","x":0.12,"y":0},{"s":"VSG","x":0.22,"y":0},{"s":"VSG","x":0.24,"y":470},{"s":"VSG","x":0.26,"y":0},{"s":"VSG","x":0.28,"y":0},{"s":"VSG","x":0.3,"y":330},{"s":"VSG","x":0.32,"y":0},{"s":"VSG","x":0.34,"y":0},{"s":"VSG","x":0.36,"y":50},{"s":"VSG","x":0.38,"y":0},{"s":"VSG","x":0.4,"y":600},{"s":"VSG","x":0.42,"y":280},{"s":"VSG","x":0.44,"y":0},{"s":"VSG","x":0.76,"y":0},{"s":"VSG","x":0.78,"y":450},{"s":"VSG","x":0.8,"y":0},{"s":"VSG","x":0.84,"y":0},{"s":"VSG","x":0.86,"y":850},{"s":"VSG","x":0.88,"y":300},{"s":"VSG","x":0.9,"y":0},{"s":"VSG","x":0.98,"y":0},{"s":"VSG","x":1,"y":350},
{"s":"DePre","x":0,"y":660},{"s":"DePre","x":0.02,"y":200},{"s":"DePre","x":0.04,"y":0},{"s":"DePre","x":0.06,"y":346},{"s":"DePre","x":0.08,"y":0},{"s":"DePre","x":0.16,"y":0},{"s":"DePre","x":0.18,"y":660},{"s":"DePre","x":0.2,"y":337},{"s":"DePre","x":0.22,"y":472},{"s":"DePre","x":0.24,"y":0},{"s":"DePre","x":0.36,"y":0},{"s":"DePre","x":0.38,"y":683},{"s":"DePre","x":0.4,"y":350},{"s":"DePre","x":0.42,"y":990},{"s":"DePre","x":0.44,"y":0},{"s":"DePre","x":0.52,"y":0},{"s":"DePre","x":0.54,"y":346},{"s":"DePre","x":0.56,"y":330},{"s":"DePre","x":0.58,"y":405},{"s":"DePre","x":0.6,"y":0},{"s":"DePre","x":0.64,"y":0},{"s":"DePre","x":0.66,"y":680},{"s":"DePre","x":0.68,"y":0},{"s":"DePre","x":0.82,"y":0},{"s":"DePre","x":0.84,"y":680},{"s":"DePre","x":0.86,"y":100},{"s":"DePre","x":0.88,"y":0},{"s":"DePre","x":0.9,"y":400},{"s":"DePre","x":0.92,"y":0},{"s":"DePre","x":0.98,"y":0},{"s":"DePre","x":1,"y":330},
{"s":"TPC","x":0,"y":0},{"s":"TPC","x":0.02,"y":300},{"s":"TPC","x":0.04,"y":514},{"s":"TPC","x":0.06,"y":0},{"s":"TPC","x":0.14,"y":0},{"s":"TPC","x":0.16,"y":150},{"s":"TPC","x":0.18,"y":0},{"s":"TPC","x":0.26,"y":0},{"s":"TPC","x":0.28,"y":391},{"s":"TPC","x":0.3,"y":0},{"s":"TPC","x":0.36,"y":0},{"s":"TPC","x":0.38,"y":253},{"s":"TPC","x":0.4,"y":0},{"s":"TPC","x":0.44,"y":0},{"s":"TPC","x":0.46,"y":855},{"s":"TPC","x":0.48,"y":0},{"s":"TPC","x":0.54,"y":0},{"s":"TPC","x":0.56,"y":391},{"s":"TPC","x":0.58,"y":0},{"s":"TPC","x":0.62,"y":0},{"s":"TPC","x":0.64,"y":350},{"s":"TPC","x":0.66,"y":418},{"s":"TPC","x":0.68,"y":0},{"s":"TPC","x":0.94,"y":0},{"s":"TPC","x":0.96,"y":510},{"s":"TPC","x":0.98,"y":420},{"s":"TPC","x":1,"y":0}
],
"CCb": [
{"s":"DePre","x":0,"l":0,"h":900},{"s":"DePre","x":0.06,"l":0,"h":500},{"s":"DePre","x":0.12,"l":0,"h":450},{"s":"DePre","x":0.18,"l":0,"h":1080},{"s":"DePre","x":0.2,"l":0,"h":850},{"s":"DePre","x":0.24,"l":0,"h":300},{"s":"DePre","x":0.3,"l":0,"h":400},{"s":"DePre","x":0.38,"l":0,"h":1000},{"s":"DePre","x":0.4,"l":0,"h":650},{"s":"DePre","x":0.42,"l":0,"h":1100},{"s":"DePre","x":0.46,"l":0,"h":300},{"s":"DePre","x":0.54,"l":0,"h":800},{"s":"DePre","x":0.58,"l":0,"h":800},{"s":"DePre","x":0.62,"l":0,"h":400},{"s":"DePre","x":0.66,"l":0,"h":900},{"s":"DePre","x":0.7,"l":0,"h":400},{"s":"DePre","x":0.76,"l":0,"h":500},{"s":"DePre","x":0.84,"l":0,"h":900},{"s":"DePre","x":0.88,"l":0,"h":300},{"s":"DePre","x":0.9,"l":0,"h":700},{"s":"DePre","x":0.96,"l":0,"h":400},{"s":"DePre","x":1,"l":0,"h":600},
{"s":"Dreamer","x":0,"l":-150,"h":250},{"s":"Dreamer","x":0.1,"l":-200,"h":150},{"s":"Dreamer","x":0.2,"l":-180,"h":200},{"s":"Dreamer","x":0.3,"l":-220,"h":180},{"s":"Dreamer","x":0.4,"l":-200,"h":250},{"s":"Dreamer","x":0.5,"l":-180,"h":150},{"s":"Dreamer","x":0.6,"l":-200,"h":200},{"s":"Dreamer","x":0.7,"l":-220,"h":250},{"s":"Dreamer","x":0.8,"l":-180,"h":150},{"s":"Dreamer","x":0.9,"l":-200,"h":300},{"s":"Dreamer","x":1,"l":-150,"h":200}
]
},
"vconcat": [
{"hconcat": [
{"width": 317, "height": 294, "title": "Cheetah Run",
 "encoding": {"x": {"field": "x", "type": "quantitative", "scale": {"domain": [0, 1], "nice": false}, "axis": {"values": [0, 0.2, 0.4, 0.6, 0.8, 1], "format": ".1f", "title": null}}},
 "layer": [
  {"data": {"name": "CRb"}, "mark": {"type": "area", "fillOpacity": 0.07, "clip": true}, "encoding": {"y": {"field": "l", "type": "quantitative", "scale": {"domain": [-40, 310], "nice": false, "zero": false}, "axis": {"values": [0, 100, 200, 300], "format": "d", "title": null}}, "y2": {"field": "h"}, "color": {"field": "s", "type": "nominal", "scale": {"domain": ["DePre","Iso-Dreamer","Denoised MDPs","VSG","TPC","TIA","Dreamer","Dreamer-V2","DBC","SPR"], "range": ["#e41a1c","#a6cee3","#8c8c8c","#4daf4a","#377eb8","#984ea3","#cab2d6","#ff7f00","#b2df8a","#a65628"]}}}},
  {"data": {"name": "CR"}, "mark": {"type": "line", "strokeWidth": 2.5, "clip": true}, "encoding": {"y": {"field": "y", "type": "quantitative", "scale": {"domain": [-40, 310], "nice": false, "zero": false}, "axis": {"values": [0, 100, 200, 300], "format": "d", "title": null}}, "color": {"field": "s", "type": "nominal", "scale": {"domain": ["DePre","Iso-Dreamer","Denoised MDPs","VSG","TPC","TIA","Dreamer","Dreamer-V2","DBC","SPR"], "range": ["#e41a1c","#a6cee3","#8c8c8c","#4daf4a","#377eb8","#984ea3","#cab2d6","#ff7f00","#b2df8a","#a65628"]}}}}
 ]},
{"width": 317, "height": 294, "title": "Walker Walk",
 "encoding": {"x": {"field": "x", "type": "quantitative", "scale": {"domain": [0, 1], "nice": false}, "axis": {"values": [0, 0.2, 0.4, 0.6, 0.8, 1], "format": ".1f", "title": null}}},
 "layer": [
  {"data": {"name": "WWb"}, "mark": {"type": "area", "fillOpacity": 0.1, "clip": true}, "encoding": {"y": {"field": "l", "type": "quantitative", "scale": {"domain": [-42, 546], "nice": false, "zero": false}, "axis": {"values": [0, 200, 400], "format": "d", "title": null}}, "y2": {"field": "h"}, "color": {"field": "s", "type": "nominal", "scale": {"domain": ["DePre","Iso-Dreamer","Denoised MDPs","VSG","TPC","TIA","Dreamer","Dreamer-V2","DBC","SPR"], "range": ["#e41a1c","#a6cee3","#8c8c8c","#4daf4a","#377eb8","#984ea3","#cab2d6","#ff7f00","#b2df8a","#a65628"]}}}},
  {"data": {"name": "WW"}, "mark": {"type": "line", "strokeWidth": 2.5, "clip": true}, "encoding": {"y": {"field": "y", "type": "quantitative", "scale": {"domain": [-42, 546], "nice": false, "zero": false}, "axis": {"values": [0, 200, 400], "format": "d", "title": null}}, "color": {"field": "s", "type": "nominal", "scale": {"domain": ["DePre","Iso-Dreamer","Denoised MDPs","VSG","TPC","TIA","Dreamer","Dreamer-V2","DBC","SPR"], "range": ["#e41a1c","#a6cee3","#8c8c8c","#4daf4a","#377eb8","#984ea3","#cab2d6","#ff7f00","#b2df8a","#a65628"]}}}}
 ]},
{"width": 315, "height": 294, "title": "Cartpole Swingup",
 "encoding": {"x": {"field": "x", "type": "quantitative", "scale": {"domain": [0, 1], "nice": false}, "axis": {"values": [0, 0.2, 0.4, 0.6, 0.8, 1], "format": ".1f", "title": null}}},
 "layer": [
  {"data": {"name": "CSb"}, "mark": {"type": "area", "fillOpacity": 0.1, "clip": true}, "encoding": {"y": {"field": "l", "type": "quantitative", "scale": {"domain": [-37, 747], "nice": false, "zero": false}, "axis": {"values": [0, 200, 400, 600], "format": "d", "title": null}}, "y2": {"field": "h"}, "color": {"field": "s", "type": "nominal", "scale": {"domain": ["DePre","Iso-Dreamer","Denoised MDPs","VSG","TPC","TIA","Dreamer","Dreamer-V2","DBC","SPR"], "range": ["#e41a1c","#a6cee3","#8c8c8c","#4daf4a","#377eb8","#984ea3","#cab2d6","#ff7f00","#b2df8a","#a65628"]}}}},
  {"data": {"name": "CS"}, "mark": {"type": "line", "strokeWidth": 2.5, "clip": true}, "encoding": {"y": {"field": "y", "type": "quantitative", "scale": {"domain": [-37, 747], "nice": false, "zero": false}, "axis": {"values": [0, 200, 400, 600], "format": "d", "title": null}}, "color": {"field": "s", "type": "nominal", "scale": {"domain": ["DePre","Iso-Dreamer","Denoised MDPs","VSG","TPC","TIA","Dreamer","Dreamer-V2","DBC","SPR"], "range": ["#e41a1c","#a6cee3","#8c8c8c","#4daf4a","#377eb8","#984ea3","#cab2d6","#ff7f00","#b2df8a","#a65628"]}}}}
 ]}
], "spacing": 30},
{"hconcat": [
{"width": 317, "height": 295, "title": "Pendulum Swingup",
 "encoding": {"x": {"field": "x", "type": "quantitative", "scale": {"domain": [0, 1], "nice": false}, "axis": {"values": [0, 0.2, 0.4, 0.6, 0.8, 1], "format": ".1f", "title": null}}},
 "layer": [
  {"data": {"name": "PSb"}, "mark": {"type": "area", "fillOpacity": 0.1, "clip": true}, "encoding": {"y": {"field": "l", "type": "quantitative", "scale": {"domain": [-49, 613], "nice": false, "zero": false}, "axis": {"values": [0, 200, 400, 600], "format": "d", "title": null}}, "y2": {"field": "h"}, "color": {"field": "s", "type": "nominal", "scale": {"domain": ["DePre","Iso-Dreamer","Denoised MDPs","VSG","TPC","TIA","Dreamer","Dreamer-V2","DBC","SPR"], "range": ["#e41a1c","#a6cee3","#8c8c8c","#4daf4a","#377eb8","#984ea3","#cab2d6","#ff7f00","#b2df8a","#a65628"]}}}},
  {"data": {"name": "PS"}, "mark": {"type": "line", "strokeWidth": 2.5, "clip": true}, "encoding": {"y": {"field": "y", "type": "quantitative", "scale": {"domain": [-49, 613], "nice": false, "zero": false}, "axis": {"values": [0, 200, 400, 600], "format": "d", "title": null}}, "color": {"field": "s", "type": "nominal", "scale": {"domain": ["DePre","Iso-Dreamer","Denoised MDPs","VSG","TPC","TIA","Dreamer","Dreamer-V2","DBC","SPR"], "range": ["#e41a1c","#a6cee3","#8c8c8c","#4daf4a","#377eb8","#984ea3","#cab2d6","#ff7f00","#b2df8a","#a65628"]}}}}
 ]},
{"width": 317, "height": 295, "title": "Reacher Easy",
 "encoding": {"x": {"field": "x", "type": "quantitative", "scale": {"domain": [0, 1], "nice": false}, "axis": {"values": [0, 0.2, 0.4, 0.6, 0.8, 1], "format": ".1f", "title": "Environmental Steps (×10⁶)", "titleX": 139, "titlePadding": 23}}},
 "layer": [
  {"data": {"name": "REb"}, "mark": {"type": "area", "fillOpacity": 0.08, "clip": true}, "encoding": {"y": {"field": "l", "type": "quantitative", "scale": {"domain": [-223, 1043], "nice": false, "zero": false}, "axis": {"values": [0, 500, 1000], "format": "d", "title": null}}, "y2": {"field": "h"}, "color": {"field": "s", "type": "nominal", "scale": {"domain": ["DePre","Iso-Dreamer","Denoised MDPs","VSG","TPC","TIA","Dreamer","Dreamer-V2","DBC","SPR"], "range": ["#e41a1c","#a6cee3","#8c8c8c","#4daf4a","#377eb8","#984ea3","#cab2d6","#ff7f00","#b2df8a","#a65628"]}}}},
  {"data": {"name": "RE"}, "mark": {"type": "line", "strokeWidth": 2.5, "clip": true}, "encoding": {"y": {"field": "y", "type": "quantitative", "scale": {"domain": [-223, 1043], "nice": false, "zero": false}, "axis": {"values": [0, 500, 1000], "format": "d", "title": null}}, "color": {"field": "s", "type": "nominal", "scale": {"domain": ["DePre","Iso-Dreamer","Denoised MDPs","VSG","TPC","TIA","Dreamer","Dreamer-V2","DBC","SPR"], "range": ["#e41a1c","#a6cee3","#8c8c8c","#4daf4a","#377eb8","#984ea3","#cab2d6","#ff7f00","#b2df8a","#a65628"]}}}}
 ]},
{"width": 315, "height": 295, "title": "Cup Catch",
 "encoding": {"x": {"field": "x", "type": "quantitative", "scale": {"domain": [0, 1], "nice": false}, "axis": {"values": [0, 0.2, 0.4, 0.6, 0.8, 1], "format": ".1f", "title": null}}},
 "layer": [
  {"data": {"name": "CCb"}, "mark": {"type": "area", "fillOpacity": 0.08, "clip": true}, "encoding": {"y": {"field": "l", "type": "quantitative", "scale": {"domain": [-273, 1217], "nice": false, "zero": false}, "axis": {"values": [0, 500, 1000], "format": "d", "title": null}}, "y2": {"field": "h"}, "color": {"field": "s", "type": "nominal", "scale": {"domain": ["DePre","Iso-Dreamer","Denoised MDPs","VSG","TPC","TIA","Dreamer","Dreamer-V2","DBC","SPR"], "range": ["#e41a1c","#a6cee3","#8c8c8c","#4daf4a","#377eb8","#984ea3","#cab2d6","#ff7f00","#b2df8a","#a65628"]}}}},
  {"data": {"name": "CC"}, "mark": {"type": "line", "strokeWidth": 2.5, "clip": true}, "encoding": {"y": {"field": "y", "type": "quantitative", "scale": {"domain": [-273, 1217], "nice": false, "zero": false}, "axis": {"values": [0, 500, 1000], "format": "d", "title": null}}, "color": {"field": "s", "type": "nominal", "scale": {"domain": ["DePre","Iso-Dreamer","Denoised MDPs","VSG","TPC","TIA","Dreamer","Dreamer-V2","DBC","SPR"], "range": ["#e41a1c","#a6cee3","#8c8c8c","#4daf4a","#377eb8","#984ea3","#cab2d6","#ff7f00","#b2df8a","#a65628"]}}}}
 ]}
], "spacing": 16}
],
"resolve": {"scale": {"y": "independent"}},
"config": {
 "font": "DejaVu Sans",
 "view": {"stroke": "black", "strokeWidth": 1.2},
 "axis": {"grid": false, "domain": false, "tickColor": "black", "tickSize": 5, "labelColor": "black", "labelFontSize": 19.5, "labelFont": "DejaVu Sans", "titleFont": "DejaVu Sans", "titleFontSize": 19.5, "titleFontWeight": "normal", "titleColor": "black", "labelFlush": false},
 "axisX": {"labelPadding": 5},
 "axisY": {"labelPadding": 3},
 "title": {"fontSize": 19.5, "fontWeight": "normal", "color": "black", "offset": 4, "font": "DejaVu Sans"},
 "legend": {"orient": "none", "direction": "horizontal", "legendX": 96, "legendY": 744, "columns": 6, "title": null, "symbolType": "M-1.75,0H1.75", "symbolStrokeWidth": 3, "symbolSize": 400, "symbolOpacity": 1, "symbolFillColor": "transparent", "labelFontSize": 19, "labelFont": "DejaVu Sans", "labelColor": "black", "rowPadding": 0, "columnPadding": 37, "labelOffset": 16}
}
}
